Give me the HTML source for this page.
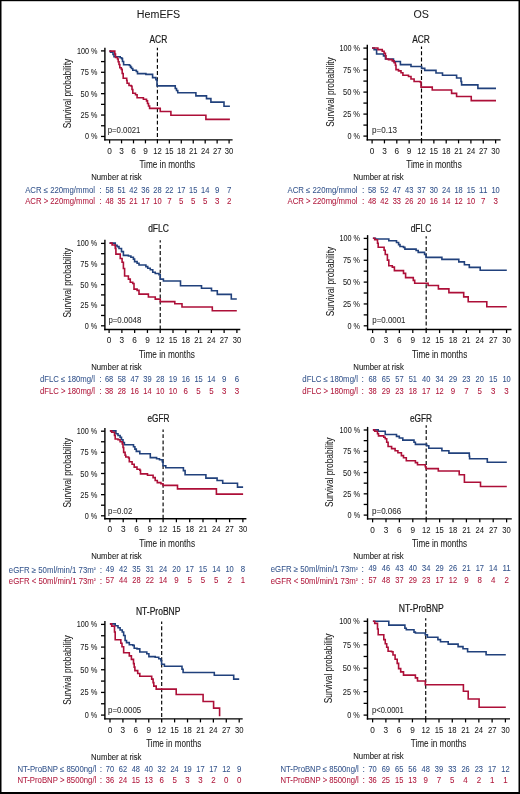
<!DOCTYPE html>
<html><head><meta charset="utf-8"><style>
html,body{margin:0;padding:0;background:#fff;}
svg{display:block;will-change:transform;font-family:"Liberation Sans", sans-serif;}
</style></head><body>
<svg width="520" height="794" viewBox="0 0 520 794">
<rect x="0" y="0" width="520" height="794" fill="#fff"/>
<rect x="0" y="0" width="520" height="1.2" fill="#000"/><rect x="0" y="0" width="1.5" height="794" fill="#000"/><rect x="518.5" y="0" width="1.5" height="794" fill="#000"/><rect x="0" y="792" width="520" height="2" fill="#000"/>
<text x="158.5" y="17.9" font-size="11.7" text-anchor="middle" fill="#1a1a1a" stroke="#1a1a1a" stroke-width="0.06" textLength="43.3" lengthAdjust="spacingAndGlyphs">HemEFS</text>
<text x="421.1" y="17.9" font-size="11.7" text-anchor="middle" fill="#1a1a1a" stroke="#1a1a1a" stroke-width="0.06" textLength="15.4" lengthAdjust="spacingAndGlyphs">OS</text>
<line x1="104.90" y1="47.80" x2="104.90" y2="140.60" stroke="#000" stroke-width="1.4"/>
<line x1="104.20" y1="139.90" x2="232.60" y2="139.90" stroke="#000" stroke-width="1.4"/>
<line x1="101.00" y1="136.45" x2="104.90" y2="136.45" stroke="#000" stroke-width="1.3"/>
<line x1="101.00" y1="125.76" x2="104.90" y2="125.76" stroke="#000" stroke-width="1.3"/>
<line x1="101.00" y1="115.06" x2="104.90" y2="115.06" stroke="#000" stroke-width="1.3"/>
<line x1="101.00" y1="104.37" x2="104.90" y2="104.37" stroke="#000" stroke-width="1.3"/>
<line x1="101.00" y1="93.67" x2="104.90" y2="93.67" stroke="#000" stroke-width="1.3"/>
<line x1="101.00" y1="82.98" x2="104.90" y2="82.98" stroke="#000" stroke-width="1.3"/>
<line x1="101.00" y1="72.29" x2="104.90" y2="72.29" stroke="#000" stroke-width="1.3"/>
<line x1="101.00" y1="61.59" x2="104.90" y2="61.59" stroke="#000" stroke-width="1.3"/>
<line x1="101.00" y1="50.90" x2="104.90" y2="50.90" stroke="#000" stroke-width="1.3"/>
<line x1="109.60" y1="139.90" x2="109.60" y2="143.40" stroke="#000" stroke-width="1.25"/>
<line x1="121.55" y1="139.90" x2="121.55" y2="143.40" stroke="#000" stroke-width="1.25"/>
<line x1="133.50" y1="139.90" x2="133.50" y2="143.40" stroke="#000" stroke-width="1.25"/>
<line x1="145.45" y1="139.90" x2="145.45" y2="143.40" stroke="#000" stroke-width="1.25"/>
<line x1="157.40" y1="139.90" x2="157.40" y2="143.40" stroke="#000" stroke-width="1.25"/>
<line x1="169.34" y1="139.90" x2="169.34" y2="143.40" stroke="#000" stroke-width="1.25"/>
<line x1="181.29" y1="139.90" x2="181.29" y2="143.40" stroke="#000" stroke-width="1.25"/>
<line x1="193.24" y1="139.90" x2="193.24" y2="143.40" stroke="#000" stroke-width="1.25"/>
<line x1="205.19" y1="139.90" x2="205.19" y2="143.40" stroke="#000" stroke-width="1.25"/>
<line x1="217.14" y1="139.90" x2="217.14" y2="143.40" stroke="#000" stroke-width="1.25"/>
<line x1="229.09" y1="139.90" x2="229.09" y2="143.40" stroke="#000" stroke-width="1.25"/>
<text x="97.50" y="139.45" font-size="9.0" text-anchor="end" fill="#1a1a1a" stroke="#1a1a1a" stroke-width="0.06" textLength="12.50" lengthAdjust="spacingAndGlyphs">0 %</text>
<text x="97.50" y="118.06" font-size="9.0" text-anchor="end" fill="#1a1a1a" stroke="#1a1a1a" stroke-width="0.06" textLength="17.00" lengthAdjust="spacingAndGlyphs">25 %</text>
<text x="97.50" y="96.67" font-size="9.0" text-anchor="end" fill="#1a1a1a" stroke="#1a1a1a" stroke-width="0.06" textLength="17.00" lengthAdjust="spacingAndGlyphs">50 %</text>
<text x="97.50" y="75.29" font-size="9.0" text-anchor="end" fill="#1a1a1a" stroke="#1a1a1a" stroke-width="0.06" textLength="17.00" lengthAdjust="spacingAndGlyphs">75 %</text>
<text x="97.50" y="53.90" font-size="9.0" text-anchor="end" fill="#1a1a1a" stroke="#1a1a1a" stroke-width="0.06" textLength="20.50" lengthAdjust="spacingAndGlyphs">100 %</text>
<text x="109.60" y="153.70" font-size="9.6" text-anchor="middle" fill="#1a1a1a" stroke="#1a1a1a" stroke-width="0.06" textLength="4.60" lengthAdjust="spacingAndGlyphs">0</text>
<text x="121.55" y="153.70" font-size="9.6" text-anchor="middle" fill="#1a1a1a" stroke="#1a1a1a" stroke-width="0.06" textLength="4.60" lengthAdjust="spacingAndGlyphs">3</text>
<text x="133.50" y="153.70" font-size="9.6" text-anchor="middle" fill="#1a1a1a" stroke="#1a1a1a" stroke-width="0.06" textLength="4.60" lengthAdjust="spacingAndGlyphs">6</text>
<text x="145.45" y="153.70" font-size="9.6" text-anchor="middle" fill="#1a1a1a" stroke="#1a1a1a" stroke-width="0.06" textLength="4.60" lengthAdjust="spacingAndGlyphs">9</text>
<text x="157.40" y="153.70" font-size="9.6" text-anchor="middle" fill="#1a1a1a" stroke="#1a1a1a" stroke-width="0.06" textLength="8.50" lengthAdjust="spacingAndGlyphs">12</text>
<text x="169.34" y="153.70" font-size="9.6" text-anchor="middle" fill="#1a1a1a" stroke="#1a1a1a" stroke-width="0.06" textLength="8.50" lengthAdjust="spacingAndGlyphs">15</text>
<text x="181.29" y="153.70" font-size="9.6" text-anchor="middle" fill="#1a1a1a" stroke="#1a1a1a" stroke-width="0.06" textLength="8.50" lengthAdjust="spacingAndGlyphs">18</text>
<text x="193.24" y="153.70" font-size="9.6" text-anchor="middle" fill="#1a1a1a" stroke="#1a1a1a" stroke-width="0.06" textLength="8.50" lengthAdjust="spacingAndGlyphs">21</text>
<text x="205.19" y="153.70" font-size="9.6" text-anchor="middle" fill="#1a1a1a" stroke="#1a1a1a" stroke-width="0.06" textLength="8.50" lengthAdjust="spacingAndGlyphs">24</text>
<text x="217.14" y="153.70" font-size="9.6" text-anchor="middle" fill="#1a1a1a" stroke="#1a1a1a" stroke-width="0.06" textLength="8.50" lengthAdjust="spacingAndGlyphs">27</text>
<text x="229.09" y="153.70" font-size="9.6" text-anchor="middle" fill="#1a1a1a" stroke="#1a1a1a" stroke-width="0.06" textLength="8.50" lengthAdjust="spacingAndGlyphs">30</text>
<text x="0" y="0" font-size="10.0" text-anchor="middle" fill="#1a1a1a" stroke="#1a1a1a" stroke-width="0.06" transform="translate(70.80,93.60) rotate(-90)" textLength="69.5" lengthAdjust="spacingAndGlyphs">Survival probability</text>
<text x="167.30" y="168.30" font-size="10.8" text-anchor="middle" fill="#1a1a1a" stroke="#1a1a1a" stroke-width="0.06" textLength="55.80" lengthAdjust="spacingAndGlyphs">Time in months</text>
<text x="158.40" y="42.50" font-size="10.0" text-anchor="middle" fill="#1a1a1a" stroke="#1a1a1a" stroke-width="0.2" textLength="17.80" lengthAdjust="spacingAndGlyphs">ACR</text>
<text x="107.70" y="133.10" font-size="8.4" text-anchor="start" fill="#2a2a2a" stroke="#2a2a2a" stroke-width="0.05" textLength="32.70" lengthAdjust="spacingAndGlyphs">p=0.0021</text>
<line x1="157.40" y1="47.80" x2="157.40" y2="139.90" stroke="#000" stroke-width="1.15" stroke-dasharray="3.9 2.3" stroke-dashoffset="1.5"/>
<path d="M109.40 51.10 L110.50 51.10 L110.50 52.30 L113.00 52.30 L113.00 54.50 L114.00 54.50 L114.00 56.70 L120.20 56.70 L120.20 57.80 L121.70 57.80 L121.70 58.60 L122.50 58.60 L122.50 61.50 L123.60 61.50 L123.60 64.80 L129.40 64.80 L129.40 65.50 L130.50 65.50 L130.50 67.10 L131.50 67.10 L131.50 68.50 L132.80 68.50 L132.80 70.20 L136.30 70.20 L136.30 71.50 L137.50 71.50 L137.50 73.60 L145.90 73.60 L145.90 74.40 L152.60 74.40 L152.60 77.60 L155.90 77.60 L155.90 79.60 L157.00 79.60 L157.00 85.90 L175.25 85.90 L175.25 88.50 L176.50 88.50 L176.50 90.50 L177.75 90.50 L177.75 92.75 L195.90 92.75 L195.90 95.90 L206.50 95.90 L206.50 98.60 L210.90 98.60 L210.90 102.10 L224.00 102.10 L224.00 106.25 L229.90 106.25 L229.90 106.25" fill="none" stroke="#21417c" stroke-width="1.6" stroke-linejoin="miter"/>
<path d="M109.40 51.10 L114.80 51.10 L114.80 54.00 L115.50 54.00 L115.50 57.50 L117.50 57.50 L117.50 59.00 L118.20 59.00 L118.20 61.70 L119.00 61.70 L119.00 64.50 L119.80 64.50 L119.80 67.80 L121.30 67.80 L121.30 69.40 L122.20 69.40 L122.20 73.50 L123.20 73.50 L123.20 78.20 L126.70 78.20 L126.70 80.50 L127.10 80.50 L127.10 83.20 L129.00 83.20 L129.00 85.50 L131.30 85.50 L131.30 86.30 L132.00 86.30 L132.00 89.50 L132.80 89.50 L132.80 93.20 L135.50 93.20 L135.50 94.80 L137.10 94.80 L137.10 97.80 L143.40 97.80 L143.40 99.30 L146.50 99.30 L146.50 100.90 L147.50 100.90 L147.50 103.50 L148.50 103.50 L148.50 106.00 L149.60 106.00 L149.60 108.40 L160.25 108.40 L160.25 111.50 L170.90 111.50 L170.90 115.25 L205.90 115.25 L205.90 119.40 L229.90 119.40 L229.90 119.40" fill="none" stroke="#ad0f38" stroke-width="1.6" stroke-linejoin="miter"/>
<text x="91.20" y="180.00" font-size="8.4" text-anchor="start" fill="#1a1a1a" stroke="#1a1a1a" stroke-width="0.08" textLength="50.50" lengthAdjust="spacingAndGlyphs">Number at risk</text>
<text x="25.20" y="192.50" font-size="8.5" text-anchor="start" fill="#34548c" stroke="#34548c" stroke-width="0.05" textLength="69.80" lengthAdjust="spacingAndGlyphs">ACR ≤ 220mg/mmol</text>
<text x="100.40" y="192.50" font-size="8.5" text-anchor="middle" fill="#34548c" stroke="#34548c" stroke-width="0.06">:</text>
<text x="109.60" y="192.50" font-size="9.0" text-anchor="middle" fill="#34548c" stroke="#34548c" stroke-width="0.08" textLength="8.30" lengthAdjust="spacingAndGlyphs">58</text>
<text x="121.55" y="192.50" font-size="9.0" text-anchor="middle" fill="#34548c" stroke="#34548c" stroke-width="0.08" textLength="8.30" lengthAdjust="spacingAndGlyphs">51</text>
<text x="133.50" y="192.50" font-size="9.0" text-anchor="middle" fill="#34548c" stroke="#34548c" stroke-width="0.08" textLength="8.30" lengthAdjust="spacingAndGlyphs">42</text>
<text x="145.45" y="192.50" font-size="9.0" text-anchor="middle" fill="#34548c" stroke="#34548c" stroke-width="0.08" textLength="8.30" lengthAdjust="spacingAndGlyphs">36</text>
<text x="157.40" y="192.50" font-size="9.0" text-anchor="middle" fill="#34548c" stroke="#34548c" stroke-width="0.08" textLength="8.30" lengthAdjust="spacingAndGlyphs">28</text>
<text x="169.34" y="192.50" font-size="9.0" text-anchor="middle" fill="#34548c" stroke="#34548c" stroke-width="0.08" textLength="8.30" lengthAdjust="spacingAndGlyphs">22</text>
<text x="181.29" y="192.50" font-size="9.0" text-anchor="middle" fill="#34548c" stroke="#34548c" stroke-width="0.08" textLength="8.30" lengthAdjust="spacingAndGlyphs">17</text>
<text x="193.24" y="192.50" font-size="9.0" text-anchor="middle" fill="#34548c" stroke="#34548c" stroke-width="0.08" textLength="8.30" lengthAdjust="spacingAndGlyphs">15</text>
<text x="205.19" y="192.50" font-size="9.0" text-anchor="middle" fill="#34548c" stroke="#34548c" stroke-width="0.08" textLength="8.30" lengthAdjust="spacingAndGlyphs">14</text>
<text x="217.14" y="192.50" font-size="9.0" text-anchor="middle" fill="#34548c" stroke="#34548c" stroke-width="0.08" textLength="4.40" lengthAdjust="spacingAndGlyphs">9</text>
<text x="229.09" y="192.50" font-size="9.0" text-anchor="middle" fill="#34548c" stroke="#34548c" stroke-width="0.08" textLength="4.40" lengthAdjust="spacingAndGlyphs">7</text>
<text x="25.20" y="204.00" font-size="8.5" text-anchor="start" fill="#b0183c" stroke="#b0183c" stroke-width="0.05" textLength="69.80" lengthAdjust="spacingAndGlyphs">ACR &gt; 220mg/mmol</text>
<text x="100.40" y="204.00" font-size="8.5" text-anchor="middle" fill="#b0183c" stroke="#b0183c" stroke-width="0.06">:</text>
<text x="109.60" y="204.00" font-size="9.0" text-anchor="middle" fill="#b0183c" stroke="#b0183c" stroke-width="0.08" textLength="8.30" lengthAdjust="spacingAndGlyphs">48</text>
<text x="121.55" y="204.00" font-size="9.0" text-anchor="middle" fill="#b0183c" stroke="#b0183c" stroke-width="0.08" textLength="8.30" lengthAdjust="spacingAndGlyphs">35</text>
<text x="133.50" y="204.00" font-size="9.0" text-anchor="middle" fill="#b0183c" stroke="#b0183c" stroke-width="0.08" textLength="8.30" lengthAdjust="spacingAndGlyphs">21</text>
<text x="145.45" y="204.00" font-size="9.0" text-anchor="middle" fill="#b0183c" stroke="#b0183c" stroke-width="0.08" textLength="8.30" lengthAdjust="spacingAndGlyphs">17</text>
<text x="157.40" y="204.00" font-size="9.0" text-anchor="middle" fill="#b0183c" stroke="#b0183c" stroke-width="0.08" textLength="8.30" lengthAdjust="spacingAndGlyphs">10</text>
<text x="169.34" y="204.00" font-size="9.0" text-anchor="middle" fill="#b0183c" stroke="#b0183c" stroke-width="0.08" textLength="4.40" lengthAdjust="spacingAndGlyphs">7</text>
<text x="181.29" y="204.00" font-size="9.0" text-anchor="middle" fill="#b0183c" stroke="#b0183c" stroke-width="0.08" textLength="4.40" lengthAdjust="spacingAndGlyphs">5</text>
<text x="193.24" y="204.00" font-size="9.0" text-anchor="middle" fill="#b0183c" stroke="#b0183c" stroke-width="0.08" textLength="4.40" lengthAdjust="spacingAndGlyphs">5</text>
<text x="205.19" y="204.00" font-size="9.0" text-anchor="middle" fill="#b0183c" stroke="#b0183c" stroke-width="0.08" textLength="4.40" lengthAdjust="spacingAndGlyphs">5</text>
<text x="217.14" y="204.00" font-size="9.0" text-anchor="middle" fill="#b0183c" stroke="#b0183c" stroke-width="0.08" textLength="4.40" lengthAdjust="spacingAndGlyphs">3</text>
<text x="229.09" y="204.00" font-size="9.0" text-anchor="middle" fill="#b0183c" stroke="#b0183c" stroke-width="0.08" textLength="4.40" lengthAdjust="spacingAndGlyphs">2</text>
<line x1="367.30" y1="44.80" x2="367.30" y2="140.60" stroke="#000" stroke-width="1.4"/>
<line x1="366.60" y1="139.90" x2="500.60" y2="139.90" stroke="#000" stroke-width="1.4"/>
<line x1="363.40" y1="136.10" x2="367.30" y2="136.10" stroke="#000" stroke-width="1.3"/>
<line x1="363.40" y1="125.10" x2="367.30" y2="125.10" stroke="#000" stroke-width="1.3"/>
<line x1="363.40" y1="114.10" x2="367.30" y2="114.10" stroke="#000" stroke-width="1.3"/>
<line x1="363.40" y1="103.10" x2="367.30" y2="103.10" stroke="#000" stroke-width="1.3"/>
<line x1="363.40" y1="92.10" x2="367.30" y2="92.10" stroke="#000" stroke-width="1.3"/>
<line x1="363.40" y1="81.10" x2="367.30" y2="81.10" stroke="#000" stroke-width="1.3"/>
<line x1="363.40" y1="70.10" x2="367.30" y2="70.10" stroke="#000" stroke-width="1.3"/>
<line x1="363.40" y1="59.10" x2="367.30" y2="59.10" stroke="#000" stroke-width="1.3"/>
<line x1="363.40" y1="48.10" x2="367.30" y2="48.10" stroke="#000" stroke-width="1.3"/>
<line x1="372.10" y1="139.90" x2="372.10" y2="143.40" stroke="#000" stroke-width="1.25"/>
<line x1="384.45" y1="139.90" x2="384.45" y2="143.40" stroke="#000" stroke-width="1.25"/>
<line x1="396.80" y1="139.90" x2="396.80" y2="143.40" stroke="#000" stroke-width="1.25"/>
<line x1="409.15" y1="139.90" x2="409.15" y2="143.40" stroke="#000" stroke-width="1.25"/>
<line x1="421.50" y1="139.90" x2="421.50" y2="143.40" stroke="#000" stroke-width="1.25"/>
<line x1="433.86" y1="139.90" x2="433.86" y2="143.40" stroke="#000" stroke-width="1.25"/>
<line x1="446.21" y1="139.90" x2="446.21" y2="143.40" stroke="#000" stroke-width="1.25"/>
<line x1="458.56" y1="139.90" x2="458.56" y2="143.40" stroke="#000" stroke-width="1.25"/>
<line x1="470.91" y1="139.90" x2="470.91" y2="143.40" stroke="#000" stroke-width="1.25"/>
<line x1="483.26" y1="139.90" x2="483.26" y2="143.40" stroke="#000" stroke-width="1.25"/>
<line x1="495.61" y1="139.90" x2="495.61" y2="143.40" stroke="#000" stroke-width="1.25"/>
<text x="360.00" y="139.10" font-size="9.0" text-anchor="end" fill="#1a1a1a" stroke="#1a1a1a" stroke-width="0.06" textLength="12.50" lengthAdjust="spacingAndGlyphs">0 %</text>
<text x="360.00" y="117.10" font-size="9.0" text-anchor="end" fill="#1a1a1a" stroke="#1a1a1a" stroke-width="0.06" textLength="17.00" lengthAdjust="spacingAndGlyphs">25 %</text>
<text x="360.00" y="95.10" font-size="9.0" text-anchor="end" fill="#1a1a1a" stroke="#1a1a1a" stroke-width="0.06" textLength="17.00" lengthAdjust="spacingAndGlyphs">50 %</text>
<text x="360.00" y="73.10" font-size="9.0" text-anchor="end" fill="#1a1a1a" stroke="#1a1a1a" stroke-width="0.06" textLength="17.00" lengthAdjust="spacingAndGlyphs">75 %</text>
<text x="360.00" y="51.10" font-size="9.0" text-anchor="end" fill="#1a1a1a" stroke="#1a1a1a" stroke-width="0.06" textLength="20.50" lengthAdjust="spacingAndGlyphs">100 %</text>
<text x="372.10" y="153.70" font-size="9.6" text-anchor="middle" fill="#1a1a1a" stroke="#1a1a1a" stroke-width="0.06" textLength="4.60" lengthAdjust="spacingAndGlyphs">0</text>
<text x="384.45" y="153.70" font-size="9.6" text-anchor="middle" fill="#1a1a1a" stroke="#1a1a1a" stroke-width="0.06" textLength="4.60" lengthAdjust="spacingAndGlyphs">3</text>
<text x="396.80" y="153.70" font-size="9.6" text-anchor="middle" fill="#1a1a1a" stroke="#1a1a1a" stroke-width="0.06" textLength="4.60" lengthAdjust="spacingAndGlyphs">6</text>
<text x="409.15" y="153.70" font-size="9.6" text-anchor="middle" fill="#1a1a1a" stroke="#1a1a1a" stroke-width="0.06" textLength="4.60" lengthAdjust="spacingAndGlyphs">9</text>
<text x="421.50" y="153.70" font-size="9.6" text-anchor="middle" fill="#1a1a1a" stroke="#1a1a1a" stroke-width="0.06" textLength="8.50" lengthAdjust="spacingAndGlyphs">12</text>
<text x="433.86" y="153.70" font-size="9.6" text-anchor="middle" fill="#1a1a1a" stroke="#1a1a1a" stroke-width="0.06" textLength="8.50" lengthAdjust="spacingAndGlyphs">15</text>
<text x="446.21" y="153.70" font-size="9.6" text-anchor="middle" fill="#1a1a1a" stroke="#1a1a1a" stroke-width="0.06" textLength="8.50" lengthAdjust="spacingAndGlyphs">18</text>
<text x="458.56" y="153.70" font-size="9.6" text-anchor="middle" fill="#1a1a1a" stroke="#1a1a1a" stroke-width="0.06" textLength="8.50" lengthAdjust="spacingAndGlyphs">21</text>
<text x="470.91" y="153.70" font-size="9.6" text-anchor="middle" fill="#1a1a1a" stroke="#1a1a1a" stroke-width="0.06" textLength="8.50" lengthAdjust="spacingAndGlyphs">24</text>
<text x="483.26" y="153.70" font-size="9.6" text-anchor="middle" fill="#1a1a1a" stroke="#1a1a1a" stroke-width="0.06" textLength="8.50" lengthAdjust="spacingAndGlyphs">27</text>
<text x="495.61" y="153.70" font-size="9.6" text-anchor="middle" fill="#1a1a1a" stroke="#1a1a1a" stroke-width="0.06" textLength="8.50" lengthAdjust="spacingAndGlyphs">30</text>
<text x="0" y="0" font-size="10.0" text-anchor="middle" fill="#1a1a1a" stroke="#1a1a1a" stroke-width="0.06" transform="translate(333.50,92.00) rotate(-90)" textLength="69.5" lengthAdjust="spacingAndGlyphs">Survival probability</text>
<text x="434.00" y="168.30" font-size="10.8" text-anchor="middle" fill="#1a1a1a" stroke="#1a1a1a" stroke-width="0.06" textLength="55.50" lengthAdjust="spacingAndGlyphs">Time in months</text>
<text x="421.00" y="42.70" font-size="10.0" text-anchor="middle" fill="#1a1a1a" stroke="#1a1a1a" stroke-width="0.2" textLength="17.70" lengthAdjust="spacingAndGlyphs">ACR</text>
<text x="372.00" y="133.10" font-size="8.4" text-anchor="start" fill="#2a2a2a" stroke="#2a2a2a" stroke-width="0.05" textLength="24.90" lengthAdjust="spacingAndGlyphs">p=0.13</text>
<line x1="421.50" y1="46.60" x2="421.50" y2="139.90" stroke="#000" stroke-width="1.15" stroke-dasharray="3.9 2.3" stroke-dashoffset="1.5"/>
<path d="M372.00 48.00 L374.10 48.00 L374.10 49.60 L376.60 49.60 L376.60 54.00 L383.50 54.00 L383.50 55.90 L385.40 55.90 L385.40 59.00 L393.50 59.00 L393.50 61.50 L400.40 61.50 L400.40 64.60 L411.00 64.60 L411.00 66.50 L421.60 66.50 L421.60 68.40 L424.75 68.40 L424.75 70.40 L436.00 70.40 L436.00 73.00 L442.50 73.00 L442.50 75.25 L456.60 75.25 L456.60 78.00 L461.00 78.00 L461.00 81.50 L461.60 81.50 L461.60 84.90 L477.90 84.90 L477.90 88.40 L496.00 88.40 L496.00 88.40" fill="none" stroke="#21417c" stroke-width="1.6" stroke-linejoin="miter"/>
<path d="M372.00 48.00 L377.90 48.00 L377.90 49.60 L382.25 49.60 L382.25 51.25 L384.10 51.25 L384.10 53.40 L385.40 53.40 L385.40 55.90 L386.00 55.90 L386.00 59.00 L388.50 59.00 L388.50 59.60 L392.25 59.60 L392.25 60.90 L394.10 60.90 L394.10 62.75 L395.40 62.75 L395.40 65.25 L396.00 65.25 L396.00 69.60 L398.50 69.60 L398.50 70.90 L401.00 70.90 L401.00 72.75 L402.90 72.75 L402.90 75.25 L408.50 75.25 L408.50 76.50 L411.00 76.50 L411.00 79.00 L414.10 79.00 L414.10 81.50 L420.40 81.50 L420.40 82.10 L421.00 82.10 L421.00 87.10 L432.25 87.10 L432.25 90.00 L451.60 90.00 L451.60 93.40 L456.60 93.40 L456.60 96.50 L471.25 96.50 L471.25 100.60 L496.00 100.60 L496.00 100.60" fill="none" stroke="#ad0f38" stroke-width="1.6" stroke-linejoin="miter"/>
<text x="353.25" y="180.00" font-size="8.4" text-anchor="start" fill="#1a1a1a" stroke="#1a1a1a" stroke-width="0.08" textLength="50.50" lengthAdjust="spacingAndGlyphs">Number at risk</text>
<text x="287.50" y="192.50" font-size="8.5" text-anchor="start" fill="#34548c" stroke="#34548c" stroke-width="0.05" textLength="70.00" lengthAdjust="spacingAndGlyphs">ACR ≤ 220mg/mmol</text>
<text x="363.25" y="192.50" font-size="8.5" text-anchor="middle" fill="#34548c" stroke="#34548c" stroke-width="0.06">:</text>
<text x="372.10" y="192.50" font-size="9.0" text-anchor="middle" fill="#34548c" stroke="#34548c" stroke-width="0.08" textLength="8.30" lengthAdjust="spacingAndGlyphs">58</text>
<text x="384.45" y="192.50" font-size="9.0" text-anchor="middle" fill="#34548c" stroke="#34548c" stroke-width="0.08" textLength="8.30" lengthAdjust="spacingAndGlyphs">52</text>
<text x="396.80" y="192.50" font-size="9.0" text-anchor="middle" fill="#34548c" stroke="#34548c" stroke-width="0.08" textLength="8.30" lengthAdjust="spacingAndGlyphs">47</text>
<text x="409.15" y="192.50" font-size="9.0" text-anchor="middle" fill="#34548c" stroke="#34548c" stroke-width="0.08" textLength="8.30" lengthAdjust="spacingAndGlyphs">43</text>
<text x="421.50" y="192.50" font-size="9.0" text-anchor="middle" fill="#34548c" stroke="#34548c" stroke-width="0.08" textLength="8.30" lengthAdjust="spacingAndGlyphs">37</text>
<text x="433.86" y="192.50" font-size="9.0" text-anchor="middle" fill="#34548c" stroke="#34548c" stroke-width="0.08" textLength="8.30" lengthAdjust="spacingAndGlyphs">30</text>
<text x="446.21" y="192.50" font-size="9.0" text-anchor="middle" fill="#34548c" stroke="#34548c" stroke-width="0.08" textLength="8.30" lengthAdjust="spacingAndGlyphs">24</text>
<text x="458.56" y="192.50" font-size="9.0" text-anchor="middle" fill="#34548c" stroke="#34548c" stroke-width="0.08" textLength="8.30" lengthAdjust="spacingAndGlyphs">18</text>
<text x="470.91" y="192.50" font-size="9.0" text-anchor="middle" fill="#34548c" stroke="#34548c" stroke-width="0.08" textLength="8.30" lengthAdjust="spacingAndGlyphs">15</text>
<text x="483.26" y="192.50" font-size="9.0" text-anchor="middle" fill="#34548c" stroke="#34548c" stroke-width="0.08" textLength="8.30" lengthAdjust="spacingAndGlyphs">11</text>
<text x="495.61" y="192.50" font-size="9.0" text-anchor="middle" fill="#34548c" stroke="#34548c" stroke-width="0.08" textLength="8.30" lengthAdjust="spacingAndGlyphs">10</text>
<text x="287.50" y="204.00" font-size="8.5" text-anchor="start" fill="#b0183c" stroke="#b0183c" stroke-width="0.05" textLength="70.00" lengthAdjust="spacingAndGlyphs">ACR &gt; 220mg/mmol</text>
<text x="363.25" y="204.00" font-size="8.5" text-anchor="middle" fill="#b0183c" stroke="#b0183c" stroke-width="0.06">:</text>
<text x="372.10" y="204.00" font-size="9.0" text-anchor="middle" fill="#b0183c" stroke="#b0183c" stroke-width="0.08" textLength="8.30" lengthAdjust="spacingAndGlyphs">48</text>
<text x="384.45" y="204.00" font-size="9.0" text-anchor="middle" fill="#b0183c" stroke="#b0183c" stroke-width="0.08" textLength="8.30" lengthAdjust="spacingAndGlyphs">42</text>
<text x="396.80" y="204.00" font-size="9.0" text-anchor="middle" fill="#b0183c" stroke="#b0183c" stroke-width="0.08" textLength="8.30" lengthAdjust="spacingAndGlyphs">33</text>
<text x="409.15" y="204.00" font-size="9.0" text-anchor="middle" fill="#b0183c" stroke="#b0183c" stroke-width="0.08" textLength="8.30" lengthAdjust="spacingAndGlyphs">26</text>
<text x="421.50" y="204.00" font-size="9.0" text-anchor="middle" fill="#b0183c" stroke="#b0183c" stroke-width="0.08" textLength="8.30" lengthAdjust="spacingAndGlyphs">20</text>
<text x="433.86" y="204.00" font-size="9.0" text-anchor="middle" fill="#b0183c" stroke="#b0183c" stroke-width="0.08" textLength="8.30" lengthAdjust="spacingAndGlyphs">16</text>
<text x="446.21" y="204.00" font-size="9.0" text-anchor="middle" fill="#b0183c" stroke="#b0183c" stroke-width="0.08" textLength="8.30" lengthAdjust="spacingAndGlyphs">14</text>
<text x="458.56" y="204.00" font-size="9.0" text-anchor="middle" fill="#b0183c" stroke="#b0183c" stroke-width="0.08" textLength="8.30" lengthAdjust="spacingAndGlyphs">12</text>
<text x="470.91" y="204.00" font-size="9.0" text-anchor="middle" fill="#b0183c" stroke="#b0183c" stroke-width="0.08" textLength="8.30" lengthAdjust="spacingAndGlyphs">10</text>
<text x="483.26" y="204.00" font-size="9.0" text-anchor="middle" fill="#b0183c" stroke="#b0183c" stroke-width="0.08" textLength="4.40" lengthAdjust="spacingAndGlyphs">7</text>
<text x="495.61" y="204.00" font-size="9.0" text-anchor="middle" fill="#b0183c" stroke="#b0183c" stroke-width="0.08" textLength="4.40" lengthAdjust="spacingAndGlyphs">3</text>
<line x1="104.90" y1="239.65" x2="104.90" y2="330.15" stroke="#000" stroke-width="1.4"/>
<line x1="104.20" y1="329.45" x2="240.30" y2="329.45" stroke="#000" stroke-width="1.4"/>
<line x1="101.00" y1="325.80" x2="104.90" y2="325.80" stroke="#000" stroke-width="1.3"/>
<line x1="101.00" y1="315.50" x2="104.90" y2="315.50" stroke="#000" stroke-width="1.3"/>
<line x1="101.00" y1="305.20" x2="104.90" y2="305.20" stroke="#000" stroke-width="1.3"/>
<line x1="101.00" y1="294.90" x2="104.90" y2="294.90" stroke="#000" stroke-width="1.3"/>
<line x1="101.00" y1="284.60" x2="104.90" y2="284.60" stroke="#000" stroke-width="1.3"/>
<line x1="101.00" y1="274.30" x2="104.90" y2="274.30" stroke="#000" stroke-width="1.3"/>
<line x1="101.00" y1="264.00" x2="104.90" y2="264.00" stroke="#000" stroke-width="1.3"/>
<line x1="101.00" y1="253.70" x2="104.90" y2="253.70" stroke="#000" stroke-width="1.3"/>
<line x1="101.00" y1="243.40" x2="104.90" y2="243.40" stroke="#000" stroke-width="1.3"/>
<line x1="109.10" y1="329.45" x2="109.10" y2="332.95" stroke="#000" stroke-width="1.25"/>
<line x1="121.88" y1="329.45" x2="121.88" y2="332.95" stroke="#000" stroke-width="1.25"/>
<line x1="134.66" y1="329.45" x2="134.66" y2="332.95" stroke="#000" stroke-width="1.25"/>
<line x1="147.44" y1="329.45" x2="147.44" y2="332.95" stroke="#000" stroke-width="1.25"/>
<line x1="160.22" y1="329.45" x2="160.22" y2="332.95" stroke="#000" stroke-width="1.25"/>
<line x1="173.00" y1="329.45" x2="173.00" y2="332.95" stroke="#000" stroke-width="1.25"/>
<line x1="185.78" y1="329.45" x2="185.78" y2="332.95" stroke="#000" stroke-width="1.25"/>
<line x1="198.56" y1="329.45" x2="198.56" y2="332.95" stroke="#000" stroke-width="1.25"/>
<line x1="211.34" y1="329.45" x2="211.34" y2="332.95" stroke="#000" stroke-width="1.25"/>
<line x1="224.12" y1="329.45" x2="224.12" y2="332.95" stroke="#000" stroke-width="1.25"/>
<line x1="236.90" y1="329.45" x2="236.90" y2="332.95" stroke="#000" stroke-width="1.25"/>
<text x="97.30" y="328.80" font-size="9.0" text-anchor="end" fill="#1a1a1a" stroke="#1a1a1a" stroke-width="0.06" textLength="12.50" lengthAdjust="spacingAndGlyphs">0 %</text>
<text x="97.30" y="308.20" font-size="9.0" text-anchor="end" fill="#1a1a1a" stroke="#1a1a1a" stroke-width="0.06" textLength="17.00" lengthAdjust="spacingAndGlyphs">25 %</text>
<text x="97.30" y="287.60" font-size="9.0" text-anchor="end" fill="#1a1a1a" stroke="#1a1a1a" stroke-width="0.06" textLength="17.00" lengthAdjust="spacingAndGlyphs">50 %</text>
<text x="97.30" y="267.00" font-size="9.0" text-anchor="end" fill="#1a1a1a" stroke="#1a1a1a" stroke-width="0.06" textLength="17.00" lengthAdjust="spacingAndGlyphs">75 %</text>
<text x="97.30" y="246.40" font-size="9.0" text-anchor="end" fill="#1a1a1a" stroke="#1a1a1a" stroke-width="0.06" textLength="20.50" lengthAdjust="spacingAndGlyphs">100 %</text>
<text x="109.10" y="343.00" font-size="9.6" text-anchor="middle" fill="#1a1a1a" stroke="#1a1a1a" stroke-width="0.06" textLength="4.60" lengthAdjust="spacingAndGlyphs">0</text>
<text x="121.88" y="343.00" font-size="9.6" text-anchor="middle" fill="#1a1a1a" stroke="#1a1a1a" stroke-width="0.06" textLength="4.60" lengthAdjust="spacingAndGlyphs">3</text>
<text x="134.66" y="343.00" font-size="9.6" text-anchor="middle" fill="#1a1a1a" stroke="#1a1a1a" stroke-width="0.06" textLength="4.60" lengthAdjust="spacingAndGlyphs">6</text>
<text x="147.44" y="343.00" font-size="9.6" text-anchor="middle" fill="#1a1a1a" stroke="#1a1a1a" stroke-width="0.06" textLength="4.60" lengthAdjust="spacingAndGlyphs">9</text>
<text x="160.22" y="343.00" font-size="9.6" text-anchor="middle" fill="#1a1a1a" stroke="#1a1a1a" stroke-width="0.06" textLength="8.50" lengthAdjust="spacingAndGlyphs">12</text>
<text x="173.00" y="343.00" font-size="9.6" text-anchor="middle" fill="#1a1a1a" stroke="#1a1a1a" stroke-width="0.06" textLength="8.50" lengthAdjust="spacingAndGlyphs">15</text>
<text x="185.78" y="343.00" font-size="9.6" text-anchor="middle" fill="#1a1a1a" stroke="#1a1a1a" stroke-width="0.06" textLength="8.50" lengthAdjust="spacingAndGlyphs">18</text>
<text x="198.56" y="343.00" font-size="9.6" text-anchor="middle" fill="#1a1a1a" stroke="#1a1a1a" stroke-width="0.06" textLength="8.50" lengthAdjust="spacingAndGlyphs">21</text>
<text x="211.34" y="343.00" font-size="9.6" text-anchor="middle" fill="#1a1a1a" stroke="#1a1a1a" stroke-width="0.06" textLength="8.50" lengthAdjust="spacingAndGlyphs">24</text>
<text x="224.12" y="343.00" font-size="9.6" text-anchor="middle" fill="#1a1a1a" stroke="#1a1a1a" stroke-width="0.06" textLength="8.50" lengthAdjust="spacingAndGlyphs">27</text>
<text x="236.90" y="343.00" font-size="9.6" text-anchor="middle" fill="#1a1a1a" stroke="#1a1a1a" stroke-width="0.06" textLength="8.50" lengthAdjust="spacingAndGlyphs">30</text>
<text x="0" y="0" font-size="10.0" text-anchor="middle" fill="#1a1a1a" stroke="#1a1a1a" stroke-width="0.06" transform="translate(70.60,282.80) rotate(-90)" textLength="69.5" lengthAdjust="spacingAndGlyphs">Survival probability</text>
<text x="166.90" y="357.70" font-size="10.8" text-anchor="middle" fill="#1a1a1a" stroke="#1a1a1a" stroke-width="0.06" textLength="55.80" lengthAdjust="spacingAndGlyphs">Time in months</text>
<text x="158.50" y="231.90" font-size="10.0" text-anchor="middle" fill="#1a1a1a" stroke="#1a1a1a" stroke-width="0.2" textLength="20.70" lengthAdjust="spacingAndGlyphs">dFLC</text>
<text x="108.40" y="322.60" font-size="8.4" text-anchor="start" fill="#2a2a2a" stroke="#2a2a2a" stroke-width="0.05" textLength="32.90" lengthAdjust="spacingAndGlyphs">p=0.0048</text>
<line x1="160.22" y1="240.20" x2="160.22" y2="329.45" stroke="#000" stroke-width="1.15" stroke-dasharray="3.9 2.3" stroke-dashoffset="1.5"/>
<path d="M109.60 243.10 L115.25 243.10 L115.25 245.40 L117.10 245.40 L117.10 246.60 L119.00 246.60 L119.00 248.50 L121.50 248.50 L121.50 251.60 L123.40 251.60 L123.40 255.40 L128.40 255.40 L128.40 256.00 L130.90 256.00 L130.90 257.25 L133.40 257.25 L133.40 259.10 L134.60 259.10 L134.60 261.60 L137.10 261.60 L137.10 263.25 L139.00 263.25 L139.00 265.00 L145.90 265.00 L145.90 266.60 L147.75 266.60 L147.75 268.25 L150.25 268.25 L150.25 269.75 L152.75 269.75 L152.75 272.25 L155.25 272.25 L155.25 273.50 L159.00 273.50 L159.00 274.75 L160.25 274.75 L160.25 279.10 L163.40 279.10 L163.40 281.00 L180.50 281.00 L180.50 285.80 L201.50 285.80 L201.50 288.20 L211.50 288.20 L211.50 290.80 L217.30 290.80 L217.30 294.40 L231.30 294.40 L231.30 299.00 L236.80 299.00 L236.80 299.00" fill="none" stroke="#21417c" stroke-width="1.6" stroke-linejoin="miter"/>
<path d="M109.60 243.10 L112.10 243.10 L112.10 245.00 L115.25 245.00 L115.25 248.50 L115.90 248.50 L115.90 254.10 L120.25 254.10 L120.25 258.50 L122.10 258.50 L122.10 262.25 L123.40 262.25 L123.40 268.50 L124.60 268.50 L124.60 276.00 L128.40 276.00 L128.40 279.10 L130.25 279.10 L130.25 282.25 L132.75 282.25 L132.75 283.50 L134.00 283.50 L134.00 289.10 L137.10 289.10 L137.10 290.40 L139.00 290.40 L139.00 294.10 L148.40 294.10 L148.40 297.00 L155.25 297.00 L155.25 299.10 L160.25 299.10 L160.25 301.60 L174.80 301.60 L174.80 303.80 L182.00 303.80 L182.00 307.00 L212.30 307.00 L212.30 310.70 L236.80 310.70 L236.80 310.70" fill="none" stroke="#ad0f38" stroke-width="1.6" stroke-linejoin="miter"/>
<text x="91.20" y="369.60" font-size="8.4" text-anchor="start" fill="#1a1a1a" stroke="#1a1a1a" stroke-width="0.08" textLength="50.50" lengthAdjust="spacingAndGlyphs">Number at risk</text>
<text x="39.90" y="381.90" font-size="8.5" text-anchor="start" fill="#34548c" stroke="#34548c" stroke-width="0.05" textLength="55.10" lengthAdjust="spacingAndGlyphs">dFLC ≤ 180mg/l</text>
<text x="100.40" y="381.90" font-size="8.5" text-anchor="middle" fill="#34548c" stroke="#34548c" stroke-width="0.06">:</text>
<text x="109.10" y="381.90" font-size="9.0" text-anchor="middle" fill="#34548c" stroke="#34548c" stroke-width="0.08" textLength="8.30" lengthAdjust="spacingAndGlyphs">68</text>
<text x="121.88" y="381.90" font-size="9.0" text-anchor="middle" fill="#34548c" stroke="#34548c" stroke-width="0.08" textLength="8.30" lengthAdjust="spacingAndGlyphs">58</text>
<text x="134.66" y="381.90" font-size="9.0" text-anchor="middle" fill="#34548c" stroke="#34548c" stroke-width="0.08" textLength="8.30" lengthAdjust="spacingAndGlyphs">47</text>
<text x="147.44" y="381.90" font-size="9.0" text-anchor="middle" fill="#34548c" stroke="#34548c" stroke-width="0.08" textLength="8.30" lengthAdjust="spacingAndGlyphs">39</text>
<text x="160.22" y="381.90" font-size="9.0" text-anchor="middle" fill="#34548c" stroke="#34548c" stroke-width="0.08" textLength="8.30" lengthAdjust="spacingAndGlyphs">28</text>
<text x="173.00" y="381.90" font-size="9.0" text-anchor="middle" fill="#34548c" stroke="#34548c" stroke-width="0.08" textLength="8.30" lengthAdjust="spacingAndGlyphs">19</text>
<text x="185.78" y="381.90" font-size="9.0" text-anchor="middle" fill="#34548c" stroke="#34548c" stroke-width="0.08" textLength="8.30" lengthAdjust="spacingAndGlyphs">16</text>
<text x="198.56" y="381.90" font-size="9.0" text-anchor="middle" fill="#34548c" stroke="#34548c" stroke-width="0.08" textLength="8.30" lengthAdjust="spacingAndGlyphs">15</text>
<text x="211.34" y="381.90" font-size="9.0" text-anchor="middle" fill="#34548c" stroke="#34548c" stroke-width="0.08" textLength="8.30" lengthAdjust="spacingAndGlyphs">14</text>
<text x="224.12" y="381.90" font-size="9.0" text-anchor="middle" fill="#34548c" stroke="#34548c" stroke-width="0.08" textLength="4.40" lengthAdjust="spacingAndGlyphs">9</text>
<text x="236.90" y="381.90" font-size="9.0" text-anchor="middle" fill="#34548c" stroke="#34548c" stroke-width="0.08" textLength="4.40" lengthAdjust="spacingAndGlyphs">6</text>
<text x="39.90" y="393.50" font-size="8.5" text-anchor="start" fill="#b0183c" stroke="#b0183c" stroke-width="0.05" textLength="55.10" lengthAdjust="spacingAndGlyphs">dFLC &gt; 180mg/l</text>
<text x="100.40" y="393.50" font-size="8.5" text-anchor="middle" fill="#b0183c" stroke="#b0183c" stroke-width="0.06">:</text>
<text x="109.10" y="393.50" font-size="9.0" text-anchor="middle" fill="#b0183c" stroke="#b0183c" stroke-width="0.08" textLength="8.30" lengthAdjust="spacingAndGlyphs">38</text>
<text x="121.88" y="393.50" font-size="9.0" text-anchor="middle" fill="#b0183c" stroke="#b0183c" stroke-width="0.08" textLength="8.30" lengthAdjust="spacingAndGlyphs">28</text>
<text x="134.66" y="393.50" font-size="9.0" text-anchor="middle" fill="#b0183c" stroke="#b0183c" stroke-width="0.08" textLength="8.30" lengthAdjust="spacingAndGlyphs">16</text>
<text x="147.44" y="393.50" font-size="9.0" text-anchor="middle" fill="#b0183c" stroke="#b0183c" stroke-width="0.08" textLength="8.30" lengthAdjust="spacingAndGlyphs">14</text>
<text x="160.22" y="393.50" font-size="9.0" text-anchor="middle" fill="#b0183c" stroke="#b0183c" stroke-width="0.08" textLength="8.30" lengthAdjust="spacingAndGlyphs">10</text>
<text x="173.00" y="393.50" font-size="9.0" text-anchor="middle" fill="#b0183c" stroke="#b0183c" stroke-width="0.08" textLength="8.30" lengthAdjust="spacingAndGlyphs">10</text>
<text x="185.78" y="393.50" font-size="9.0" text-anchor="middle" fill="#b0183c" stroke="#b0183c" stroke-width="0.08" textLength="4.40" lengthAdjust="spacingAndGlyphs">6</text>
<text x="198.56" y="393.50" font-size="9.0" text-anchor="middle" fill="#b0183c" stroke="#b0183c" stroke-width="0.08" textLength="4.40" lengthAdjust="spacingAndGlyphs">5</text>
<text x="211.34" y="393.50" font-size="9.0" text-anchor="middle" fill="#b0183c" stroke="#b0183c" stroke-width="0.08" textLength="4.40" lengthAdjust="spacingAndGlyphs">5</text>
<text x="224.12" y="393.50" font-size="9.0" text-anchor="middle" fill="#b0183c" stroke="#b0183c" stroke-width="0.08" textLength="4.40" lengthAdjust="spacingAndGlyphs">3</text>
<text x="236.90" y="393.50" font-size="9.0" text-anchor="middle" fill="#b0183c" stroke="#b0183c" stroke-width="0.08" textLength="4.40" lengthAdjust="spacingAndGlyphs">3</text>
<line x1="367.60" y1="235.10" x2="367.60" y2="330.25" stroke="#000" stroke-width="1.4"/>
<line x1="366.90" y1="329.55" x2="511.50" y2="329.55" stroke="#000" stroke-width="1.4"/>
<line x1="363.70" y1="325.80" x2="367.60" y2="325.80" stroke="#000" stroke-width="1.3"/>
<line x1="363.70" y1="314.88" x2="367.60" y2="314.88" stroke="#000" stroke-width="1.3"/>
<line x1="363.70" y1="303.95" x2="367.60" y2="303.95" stroke="#000" stroke-width="1.3"/>
<line x1="363.70" y1="293.03" x2="367.60" y2="293.03" stroke="#000" stroke-width="1.3"/>
<line x1="363.70" y1="282.10" x2="367.60" y2="282.10" stroke="#000" stroke-width="1.3"/>
<line x1="363.70" y1="271.18" x2="367.60" y2="271.18" stroke="#000" stroke-width="1.3"/>
<line x1="363.70" y1="260.25" x2="367.60" y2="260.25" stroke="#000" stroke-width="1.3"/>
<line x1="363.70" y1="249.32" x2="367.60" y2="249.32" stroke="#000" stroke-width="1.3"/>
<line x1="363.70" y1="238.40" x2="367.60" y2="238.40" stroke="#000" stroke-width="1.3"/>
<line x1="372.60" y1="329.55" x2="372.60" y2="333.05" stroke="#000" stroke-width="1.25"/>
<line x1="386.00" y1="329.55" x2="386.00" y2="333.05" stroke="#000" stroke-width="1.25"/>
<line x1="399.39" y1="329.55" x2="399.39" y2="333.05" stroke="#000" stroke-width="1.25"/>
<line x1="412.79" y1="329.55" x2="412.79" y2="333.05" stroke="#000" stroke-width="1.25"/>
<line x1="426.18" y1="329.55" x2="426.18" y2="333.05" stroke="#000" stroke-width="1.25"/>
<line x1="439.58" y1="329.55" x2="439.58" y2="333.05" stroke="#000" stroke-width="1.25"/>
<line x1="452.97" y1="329.55" x2="452.97" y2="333.05" stroke="#000" stroke-width="1.25"/>
<line x1="466.37" y1="329.55" x2="466.37" y2="333.05" stroke="#000" stroke-width="1.25"/>
<line x1="479.76" y1="329.55" x2="479.76" y2="333.05" stroke="#000" stroke-width="1.25"/>
<line x1="493.16" y1="329.55" x2="493.16" y2="333.05" stroke="#000" stroke-width="1.25"/>
<line x1="506.55" y1="329.55" x2="506.55" y2="333.05" stroke="#000" stroke-width="1.25"/>
<text x="359.90" y="328.80" font-size="9.0" text-anchor="end" fill="#1a1a1a" stroke="#1a1a1a" stroke-width="0.06" textLength="12.50" lengthAdjust="spacingAndGlyphs">0 %</text>
<text x="359.90" y="306.95" font-size="9.0" text-anchor="end" fill="#1a1a1a" stroke="#1a1a1a" stroke-width="0.06" textLength="17.00" lengthAdjust="spacingAndGlyphs">25 %</text>
<text x="359.90" y="285.10" font-size="9.0" text-anchor="end" fill="#1a1a1a" stroke="#1a1a1a" stroke-width="0.06" textLength="17.00" lengthAdjust="spacingAndGlyphs">50 %</text>
<text x="359.90" y="263.25" font-size="9.0" text-anchor="end" fill="#1a1a1a" stroke="#1a1a1a" stroke-width="0.06" textLength="17.00" lengthAdjust="spacingAndGlyphs">75 %</text>
<text x="359.90" y="241.40" font-size="9.0" text-anchor="end" fill="#1a1a1a" stroke="#1a1a1a" stroke-width="0.06" textLength="20.50" lengthAdjust="spacingAndGlyphs">100 %</text>
<text x="372.60" y="342.80" font-size="9.6" text-anchor="middle" fill="#1a1a1a" stroke="#1a1a1a" stroke-width="0.06" textLength="4.60" lengthAdjust="spacingAndGlyphs">0</text>
<text x="386.00" y="342.80" font-size="9.6" text-anchor="middle" fill="#1a1a1a" stroke="#1a1a1a" stroke-width="0.06" textLength="4.60" lengthAdjust="spacingAndGlyphs">3</text>
<text x="399.39" y="342.80" font-size="9.6" text-anchor="middle" fill="#1a1a1a" stroke="#1a1a1a" stroke-width="0.06" textLength="4.60" lengthAdjust="spacingAndGlyphs">6</text>
<text x="412.79" y="342.80" font-size="9.6" text-anchor="middle" fill="#1a1a1a" stroke="#1a1a1a" stroke-width="0.06" textLength="4.60" lengthAdjust="spacingAndGlyphs">9</text>
<text x="426.18" y="342.80" font-size="9.6" text-anchor="middle" fill="#1a1a1a" stroke="#1a1a1a" stroke-width="0.06" textLength="8.50" lengthAdjust="spacingAndGlyphs">12</text>
<text x="439.58" y="342.80" font-size="9.6" text-anchor="middle" fill="#1a1a1a" stroke="#1a1a1a" stroke-width="0.06" textLength="8.50" lengthAdjust="spacingAndGlyphs">15</text>
<text x="452.97" y="342.80" font-size="9.6" text-anchor="middle" fill="#1a1a1a" stroke="#1a1a1a" stroke-width="0.06" textLength="8.50" lengthAdjust="spacingAndGlyphs">18</text>
<text x="466.37" y="342.80" font-size="9.6" text-anchor="middle" fill="#1a1a1a" stroke="#1a1a1a" stroke-width="0.06" textLength="8.50" lengthAdjust="spacingAndGlyphs">21</text>
<text x="479.76" y="342.80" font-size="9.6" text-anchor="middle" fill="#1a1a1a" stroke="#1a1a1a" stroke-width="0.06" textLength="8.50" lengthAdjust="spacingAndGlyphs">24</text>
<text x="493.16" y="342.80" font-size="9.6" text-anchor="middle" fill="#1a1a1a" stroke="#1a1a1a" stroke-width="0.06" textLength="8.50" lengthAdjust="spacingAndGlyphs">27</text>
<text x="506.55" y="342.80" font-size="9.6" text-anchor="middle" fill="#1a1a1a" stroke="#1a1a1a" stroke-width="0.06" textLength="8.50" lengthAdjust="spacingAndGlyphs">30</text>
<text x="0" y="0" font-size="10.0" text-anchor="middle" fill="#1a1a1a" stroke="#1a1a1a" stroke-width="0.06" transform="translate(334.40,281.60) rotate(-90)" textLength="69.5" lengthAdjust="spacingAndGlyphs">Survival probability</text>
<text x="439.60" y="357.70" font-size="10.8" text-anchor="middle" fill="#1a1a1a" stroke="#1a1a1a" stroke-width="0.06" textLength="55.20" lengthAdjust="spacingAndGlyphs">Time in months</text>
<text x="421.00" y="231.90" font-size="10.0" text-anchor="middle" fill="#1a1a1a" stroke="#1a1a1a" stroke-width="0.2" textLength="20.70" lengthAdjust="spacingAndGlyphs">dFLC</text>
<text x="372.30" y="322.70" font-size="8.4" text-anchor="start" fill="#2a2a2a" stroke="#2a2a2a" stroke-width="0.05" textLength="33.20" lengthAdjust="spacingAndGlyphs">p=0.0001</text>
<line x1="426.18" y1="236.20" x2="426.18" y2="329.55" stroke="#000" stroke-width="1.15" stroke-dasharray="3.9 2.3" stroke-dashoffset="1.5"/>
<path d="M372.90 238.30 L375.40 238.30 L375.40 239.00 L388.80 239.00 L388.80 240.80 L396.50 240.80 L396.50 242.50 L398.60 242.50 L398.60 244.60 L400.00 244.60 L400.00 246.50 L403.50 246.50 L403.50 247.40 L404.90 247.40 L404.90 249.10 L416.10 249.10 L416.10 250.50 L418.20 250.50 L418.20 252.40 L424.60 252.40 L424.60 254.50 L426.00 254.50 L426.00 257.40 L441.90 257.40 L441.90 259.40 L458.80 259.40 L458.80 261.90 L464.40 261.90 L464.40 264.70 L469.30 264.70 L469.30 267.40 L480.20 267.40 L480.20 270.20 L506.80 270.20 L506.80 270.20" fill="none" stroke="#21417c" stroke-width="1.6" stroke-linejoin="miter"/>
<path d="M372.90 238.30 L374.70 238.30 L374.70 239.70 L377.50 239.70 L377.50 243.20 L378.20 243.20 L378.20 247.20 L384.10 247.20 L384.10 250.25 L385.25 250.25 L385.25 254.50 L387.40 254.50 L387.40 260.10 L388.80 260.10 L388.80 265.70 L392.30 265.70 L392.30 267.10 L394.40 267.10 L394.40 270.60 L403.50 270.60 L403.50 273.40 L405.60 273.40 L405.60 277.60 L413.30 277.60 L413.30 280.40 L414.70 280.40 L414.70 283.20 L428.10 283.20 L428.10 285.50 L438.40 285.50 L438.40 288.90 L448.90 288.90 L448.90 292.60 L463.70 292.60 L463.70 296.90 L468.20 296.90 L468.20 301.80 L486.80 301.80 L486.80 306.70 L506.80 306.70 L506.80 306.70" fill="none" stroke="#ad0f38" stroke-width="1.6" stroke-linejoin="miter"/>
<text x="353.30" y="369.80" font-size="8.4" text-anchor="start" fill="#1a1a1a" stroke="#1a1a1a" stroke-width="0.08" textLength="50.50" lengthAdjust="spacingAndGlyphs">Number at risk</text>
<text x="302.30" y="382.00" font-size="8.5" text-anchor="start" fill="#34548c" stroke="#34548c" stroke-width="0.05" textLength="55.60" lengthAdjust="spacingAndGlyphs">dFLC ≤ 180mg/l</text>
<text x="362.70" y="382.00" font-size="8.5" text-anchor="middle" fill="#34548c" stroke="#34548c" stroke-width="0.06">:</text>
<text x="372.60" y="382.00" font-size="9.0" text-anchor="middle" fill="#34548c" stroke="#34548c" stroke-width="0.08" textLength="8.30" lengthAdjust="spacingAndGlyphs">68</text>
<text x="386.00" y="382.00" font-size="9.0" text-anchor="middle" fill="#34548c" stroke="#34548c" stroke-width="0.08" textLength="8.30" lengthAdjust="spacingAndGlyphs">65</text>
<text x="399.39" y="382.00" font-size="9.0" text-anchor="middle" fill="#34548c" stroke="#34548c" stroke-width="0.08" textLength="8.30" lengthAdjust="spacingAndGlyphs">57</text>
<text x="412.79" y="382.00" font-size="9.0" text-anchor="middle" fill="#34548c" stroke="#34548c" stroke-width="0.08" textLength="8.30" lengthAdjust="spacingAndGlyphs">51</text>
<text x="426.18" y="382.00" font-size="9.0" text-anchor="middle" fill="#34548c" stroke="#34548c" stroke-width="0.08" textLength="8.30" lengthAdjust="spacingAndGlyphs">40</text>
<text x="439.58" y="382.00" font-size="9.0" text-anchor="middle" fill="#34548c" stroke="#34548c" stroke-width="0.08" textLength="8.30" lengthAdjust="spacingAndGlyphs">34</text>
<text x="452.97" y="382.00" font-size="9.0" text-anchor="middle" fill="#34548c" stroke="#34548c" stroke-width="0.08" textLength="8.30" lengthAdjust="spacingAndGlyphs">29</text>
<text x="466.37" y="382.00" font-size="9.0" text-anchor="middle" fill="#34548c" stroke="#34548c" stroke-width="0.08" textLength="8.30" lengthAdjust="spacingAndGlyphs">23</text>
<text x="479.76" y="382.00" font-size="9.0" text-anchor="middle" fill="#34548c" stroke="#34548c" stroke-width="0.08" textLength="8.30" lengthAdjust="spacingAndGlyphs">20</text>
<text x="493.16" y="382.00" font-size="9.0" text-anchor="middle" fill="#34548c" stroke="#34548c" stroke-width="0.08" textLength="8.30" lengthAdjust="spacingAndGlyphs">15</text>
<text x="506.55" y="382.00" font-size="9.0" text-anchor="middle" fill="#34548c" stroke="#34548c" stroke-width="0.08" textLength="8.30" lengthAdjust="spacingAndGlyphs">10</text>
<text x="302.30" y="393.60" font-size="8.5" text-anchor="start" fill="#b0183c" stroke="#b0183c" stroke-width="0.05" textLength="55.60" lengthAdjust="spacingAndGlyphs">dFLC &gt; 180mg/l</text>
<text x="362.70" y="393.60" font-size="8.5" text-anchor="middle" fill="#b0183c" stroke="#b0183c" stroke-width="0.06">:</text>
<text x="372.60" y="393.60" font-size="9.0" text-anchor="middle" fill="#b0183c" stroke="#b0183c" stroke-width="0.08" textLength="8.30" lengthAdjust="spacingAndGlyphs">38</text>
<text x="386.00" y="393.60" font-size="9.0" text-anchor="middle" fill="#b0183c" stroke="#b0183c" stroke-width="0.08" textLength="8.30" lengthAdjust="spacingAndGlyphs">29</text>
<text x="399.39" y="393.60" font-size="9.0" text-anchor="middle" fill="#b0183c" stroke="#b0183c" stroke-width="0.08" textLength="8.30" lengthAdjust="spacingAndGlyphs">23</text>
<text x="412.79" y="393.60" font-size="9.0" text-anchor="middle" fill="#b0183c" stroke="#b0183c" stroke-width="0.08" textLength="8.30" lengthAdjust="spacingAndGlyphs">18</text>
<text x="426.18" y="393.60" font-size="9.0" text-anchor="middle" fill="#b0183c" stroke="#b0183c" stroke-width="0.08" textLength="8.30" lengthAdjust="spacingAndGlyphs">17</text>
<text x="439.58" y="393.60" font-size="9.0" text-anchor="middle" fill="#b0183c" stroke="#b0183c" stroke-width="0.08" textLength="8.30" lengthAdjust="spacingAndGlyphs">12</text>
<text x="452.97" y="393.60" font-size="9.0" text-anchor="middle" fill="#b0183c" stroke="#b0183c" stroke-width="0.08" textLength="4.40" lengthAdjust="spacingAndGlyphs">9</text>
<text x="466.37" y="393.60" font-size="9.0" text-anchor="middle" fill="#b0183c" stroke="#b0183c" stroke-width="0.08" textLength="4.40" lengthAdjust="spacingAndGlyphs">7</text>
<text x="479.76" y="393.60" font-size="9.0" text-anchor="middle" fill="#b0183c" stroke="#b0183c" stroke-width="0.08" textLength="4.40" lengthAdjust="spacingAndGlyphs">5</text>
<text x="493.16" y="393.60" font-size="9.0" text-anchor="middle" fill="#b0183c" stroke="#b0183c" stroke-width="0.08" textLength="4.40" lengthAdjust="spacingAndGlyphs">3</text>
<text x="506.55" y="393.60" font-size="9.0" text-anchor="middle" fill="#b0183c" stroke="#b0183c" stroke-width="0.08" textLength="4.40" lengthAdjust="spacingAndGlyphs">3</text>
<line x1="104.90" y1="428.10" x2="104.90" y2="519.45" stroke="#000" stroke-width="1.4"/>
<line x1="104.20" y1="518.75" x2="246.40" y2="518.75" stroke="#000" stroke-width="1.4"/>
<line x1="101.00" y1="515.80" x2="104.90" y2="515.80" stroke="#000" stroke-width="1.3"/>
<line x1="101.00" y1="505.22" x2="104.90" y2="505.22" stroke="#000" stroke-width="1.3"/>
<line x1="101.00" y1="494.65" x2="104.90" y2="494.65" stroke="#000" stroke-width="1.3"/>
<line x1="101.00" y1="484.07" x2="104.90" y2="484.07" stroke="#000" stroke-width="1.3"/>
<line x1="101.00" y1="473.50" x2="104.90" y2="473.50" stroke="#000" stroke-width="1.3"/>
<line x1="101.00" y1="462.92" x2="104.90" y2="462.92" stroke="#000" stroke-width="1.3"/>
<line x1="101.00" y1="452.35" x2="104.90" y2="452.35" stroke="#000" stroke-width="1.3"/>
<line x1="101.00" y1="441.77" x2="104.90" y2="441.77" stroke="#000" stroke-width="1.3"/>
<line x1="101.00" y1="431.20" x2="104.90" y2="431.20" stroke="#000" stroke-width="1.3"/>
<line x1="109.90" y1="518.75" x2="109.90" y2="522.25" stroke="#000" stroke-width="1.25"/>
<line x1="123.20" y1="518.75" x2="123.20" y2="522.25" stroke="#000" stroke-width="1.25"/>
<line x1="136.50" y1="518.75" x2="136.50" y2="522.25" stroke="#000" stroke-width="1.25"/>
<line x1="149.80" y1="518.75" x2="149.80" y2="522.25" stroke="#000" stroke-width="1.25"/>
<line x1="163.10" y1="518.75" x2="163.10" y2="522.25" stroke="#000" stroke-width="1.25"/>
<line x1="176.40" y1="518.75" x2="176.40" y2="522.25" stroke="#000" stroke-width="1.25"/>
<line x1="189.69" y1="518.75" x2="189.69" y2="522.25" stroke="#000" stroke-width="1.25"/>
<line x1="202.99" y1="518.75" x2="202.99" y2="522.25" stroke="#000" stroke-width="1.25"/>
<line x1="216.29" y1="518.75" x2="216.29" y2="522.25" stroke="#000" stroke-width="1.25"/>
<line x1="229.59" y1="518.75" x2="229.59" y2="522.25" stroke="#000" stroke-width="1.25"/>
<line x1="242.89" y1="518.75" x2="242.89" y2="522.25" stroke="#000" stroke-width="1.25"/>
<text x="97.30" y="518.80" font-size="9.0" text-anchor="end" fill="#1a1a1a" stroke="#1a1a1a" stroke-width="0.06" textLength="12.50" lengthAdjust="spacingAndGlyphs">0 %</text>
<text x="97.30" y="497.65" font-size="9.0" text-anchor="end" fill="#1a1a1a" stroke="#1a1a1a" stroke-width="0.06" textLength="17.00" lengthAdjust="spacingAndGlyphs">25 %</text>
<text x="97.30" y="476.50" font-size="9.0" text-anchor="end" fill="#1a1a1a" stroke="#1a1a1a" stroke-width="0.06" textLength="17.00" lengthAdjust="spacingAndGlyphs">50 %</text>
<text x="97.30" y="455.35" font-size="9.0" text-anchor="end" fill="#1a1a1a" stroke="#1a1a1a" stroke-width="0.06" textLength="17.00" lengthAdjust="spacingAndGlyphs">75 %</text>
<text x="97.30" y="434.20" font-size="9.0" text-anchor="end" fill="#1a1a1a" stroke="#1a1a1a" stroke-width="0.06" textLength="20.50" lengthAdjust="spacingAndGlyphs">100 %</text>
<text x="109.90" y="532.40" font-size="9.6" text-anchor="middle" fill="#1a1a1a" stroke="#1a1a1a" stroke-width="0.06" textLength="4.60" lengthAdjust="spacingAndGlyphs">0</text>
<text x="123.20" y="532.40" font-size="9.6" text-anchor="middle" fill="#1a1a1a" stroke="#1a1a1a" stroke-width="0.06" textLength="4.60" lengthAdjust="spacingAndGlyphs">3</text>
<text x="136.50" y="532.40" font-size="9.6" text-anchor="middle" fill="#1a1a1a" stroke="#1a1a1a" stroke-width="0.06" textLength="4.60" lengthAdjust="spacingAndGlyphs">6</text>
<text x="149.80" y="532.40" font-size="9.6" text-anchor="middle" fill="#1a1a1a" stroke="#1a1a1a" stroke-width="0.06" textLength="4.60" lengthAdjust="spacingAndGlyphs">9</text>
<text x="163.10" y="532.40" font-size="9.6" text-anchor="middle" fill="#1a1a1a" stroke="#1a1a1a" stroke-width="0.06" textLength="8.50" lengthAdjust="spacingAndGlyphs">12</text>
<text x="176.40" y="532.40" font-size="9.6" text-anchor="middle" fill="#1a1a1a" stroke="#1a1a1a" stroke-width="0.06" textLength="8.50" lengthAdjust="spacingAndGlyphs">15</text>
<text x="189.69" y="532.40" font-size="9.6" text-anchor="middle" fill="#1a1a1a" stroke="#1a1a1a" stroke-width="0.06" textLength="8.50" lengthAdjust="spacingAndGlyphs">18</text>
<text x="202.99" y="532.40" font-size="9.6" text-anchor="middle" fill="#1a1a1a" stroke="#1a1a1a" stroke-width="0.06" textLength="8.50" lengthAdjust="spacingAndGlyphs">21</text>
<text x="216.29" y="532.40" font-size="9.6" text-anchor="middle" fill="#1a1a1a" stroke="#1a1a1a" stroke-width="0.06" textLength="8.50" lengthAdjust="spacingAndGlyphs">24</text>
<text x="229.59" y="532.40" font-size="9.6" text-anchor="middle" fill="#1a1a1a" stroke="#1a1a1a" stroke-width="0.06" textLength="8.50" lengthAdjust="spacingAndGlyphs">27</text>
<text x="242.89" y="532.40" font-size="9.6" text-anchor="middle" fill="#1a1a1a" stroke="#1a1a1a" stroke-width="0.06" textLength="8.50" lengthAdjust="spacingAndGlyphs">30</text>
<text x="0" y="0" font-size="10.0" text-anchor="middle" fill="#1a1a1a" stroke="#1a1a1a" stroke-width="0.06" transform="translate(70.60,472.80) rotate(-90)" textLength="69.5" lengthAdjust="spacingAndGlyphs">Survival probability</text>
<text x="167.10" y="547.30" font-size="10.8" text-anchor="middle" fill="#1a1a1a" stroke="#1a1a1a" stroke-width="0.06" textLength="55.80" lengthAdjust="spacingAndGlyphs">Time in months</text>
<text x="158.50" y="422.10" font-size="10.0" text-anchor="middle" fill="#1a1a1a" stroke="#1a1a1a" stroke-width="0.2" textLength="21.90" lengthAdjust="spacingAndGlyphs">eGFR</text>
<text x="108.10" y="514.10" font-size="8.4" text-anchor="start" fill="#2a2a2a" stroke="#2a2a2a" stroke-width="0.05" textLength="24.20" lengthAdjust="spacingAndGlyphs">p=0.02</text>
<line x1="163.10" y1="429.50" x2="163.10" y2="518.75" stroke="#000" stroke-width="1.15" stroke-dasharray="3.9 2.3" stroke-dashoffset="1.5"/>
<path d="M109.90 430.90 L115.90 430.90 L115.90 433.70 L118.00 433.70 L118.00 435.50 L120.10 435.50 L120.10 437.40 L121.50 437.40 L121.50 439.70 L123.00 439.70 L123.00 442.50 L124.40 442.50 L124.40 444.70 L133.50 444.70 L133.50 446.80 L134.90 446.80 L134.90 449.10 L136.30 449.10 L136.30 451.40 L139.80 451.40 L139.80 453.80 L150.30 453.80 L150.30 457.60 L156.60 457.60 L156.60 458.70 L159.50 458.70 L159.50 459.80 L162.30 459.80 L162.30 461.80 L163.00 461.80 L163.00 465.70 L165.80 465.70 L165.80 467.80 L183.40 467.80 L183.40 470.60 L185.10 470.60 L185.10 474.80 L205.90 474.80 L205.90 478.10 L217.10 478.10 L217.10 480.50 L222.70 480.50 L222.70 483.30 L237.50 483.30 L237.50 487.10 L243.10 487.10 L243.10 487.10" fill="none" stroke="#21417c" stroke-width="1.6" stroke-linejoin="miter"/>
<path d="M109.90 430.90 L111.70 430.90 L111.70 432.30 L114.50 432.30 L114.50 435.50 L115.20 435.50 L115.20 439.00 L118.00 439.00 L118.00 439.70 L120.10 439.70 L120.10 441.80 L122.25 441.80 L122.25 444.00 L123.00 444.00 L123.00 447.50 L123.65 447.50 L123.65 452.40 L125.10 452.40 L125.10 455.20 L125.80 455.20 L125.80 457.00 L128.60 457.00 L128.60 458.00 L129.30 458.00 L129.30 461.80 L132.10 461.80 L132.10 464.30 L134.20 464.30 L134.20 467.10 L137.00 467.10 L137.00 469.20 L139.80 469.20 L139.80 470.20 L140.50 470.20 L140.50 473.90 L147.50 473.90 L147.50 475.30 L153.10 475.30 L153.10 477.60 L155.20 477.60 L155.20 480.50 L157.30 480.50 L157.30 482.60 L160.90 482.60 L160.90 483.70 L163.00 483.70 L163.00 485.40 L177.50 485.40 L177.50 488.90 L216.40 488.90 L216.40 494.10 L243.10 494.10 L243.10 494.10" fill="none" stroke="#ad0f38" stroke-width="1.6" stroke-linejoin="miter"/>
<text x="91.20" y="558.90" font-size="8.4" text-anchor="start" fill="#1a1a1a" stroke="#1a1a1a" stroke-width="0.08" textLength="50.50" lengthAdjust="spacingAndGlyphs">Number at risk</text>
<text x="8.80" y="572.70" font-size="8.5" text-anchor="start" fill="#34548c" stroke="#34548c" stroke-width="0.05" textLength="87.00" lengthAdjust="spacingAndGlyphs">eGFR ≥ 50ml/min/1 73m<tspan font-size="6.5" dy="-1.6">²</tspan></text>
<text x="101.00" y="572.70" font-size="8.5" text-anchor="middle" fill="#34548c" stroke="#34548c" stroke-width="0.06">:</text>
<text x="109.90" y="571.70" font-size="9.0" text-anchor="middle" fill="#34548c" stroke="#34548c" stroke-width="0.08" textLength="8.30" lengthAdjust="spacingAndGlyphs">49</text>
<text x="123.20" y="571.70" font-size="9.0" text-anchor="middle" fill="#34548c" stroke="#34548c" stroke-width="0.08" textLength="8.30" lengthAdjust="spacingAndGlyphs">42</text>
<text x="136.50" y="571.70" font-size="9.0" text-anchor="middle" fill="#34548c" stroke="#34548c" stroke-width="0.08" textLength="8.30" lengthAdjust="spacingAndGlyphs">35</text>
<text x="149.80" y="571.70" font-size="9.0" text-anchor="middle" fill="#34548c" stroke="#34548c" stroke-width="0.08" textLength="8.30" lengthAdjust="spacingAndGlyphs">31</text>
<text x="163.10" y="571.70" font-size="9.0" text-anchor="middle" fill="#34548c" stroke="#34548c" stroke-width="0.08" textLength="8.30" lengthAdjust="spacingAndGlyphs">24</text>
<text x="176.40" y="571.70" font-size="9.0" text-anchor="middle" fill="#34548c" stroke="#34548c" stroke-width="0.08" textLength="8.30" lengthAdjust="spacingAndGlyphs">20</text>
<text x="189.69" y="571.70" font-size="9.0" text-anchor="middle" fill="#34548c" stroke="#34548c" stroke-width="0.08" textLength="8.30" lengthAdjust="spacingAndGlyphs">17</text>
<text x="202.99" y="571.70" font-size="9.0" text-anchor="middle" fill="#34548c" stroke="#34548c" stroke-width="0.08" textLength="8.30" lengthAdjust="spacingAndGlyphs">15</text>
<text x="216.29" y="571.70" font-size="9.0" text-anchor="middle" fill="#34548c" stroke="#34548c" stroke-width="0.08" textLength="8.30" lengthAdjust="spacingAndGlyphs">14</text>
<text x="229.59" y="571.70" font-size="9.0" text-anchor="middle" fill="#34548c" stroke="#34548c" stroke-width="0.08" textLength="8.30" lengthAdjust="spacingAndGlyphs">10</text>
<text x="242.89" y="571.70" font-size="9.0" text-anchor="middle" fill="#34548c" stroke="#34548c" stroke-width="0.08" textLength="4.40" lengthAdjust="spacingAndGlyphs">8</text>
<text x="8.80" y="583.90" font-size="8.5" text-anchor="start" fill="#b0183c" stroke="#b0183c" stroke-width="0.05" textLength="87.00" lengthAdjust="spacingAndGlyphs">eGFR &lt; 50ml/min/1 73m<tspan font-size="6.5" dy="-1.6">²</tspan></text>
<text x="101.00" y="583.90" font-size="8.5" text-anchor="middle" fill="#b0183c" stroke="#b0183c" stroke-width="0.06">:</text>
<text x="109.90" y="582.90" font-size="9.0" text-anchor="middle" fill="#b0183c" stroke="#b0183c" stroke-width="0.08" textLength="8.30" lengthAdjust="spacingAndGlyphs">57</text>
<text x="123.20" y="582.90" font-size="9.0" text-anchor="middle" fill="#b0183c" stroke="#b0183c" stroke-width="0.08" textLength="8.30" lengthAdjust="spacingAndGlyphs">44</text>
<text x="136.50" y="582.90" font-size="9.0" text-anchor="middle" fill="#b0183c" stroke="#b0183c" stroke-width="0.08" textLength="8.30" lengthAdjust="spacingAndGlyphs">28</text>
<text x="149.80" y="582.90" font-size="9.0" text-anchor="middle" fill="#b0183c" stroke="#b0183c" stroke-width="0.08" textLength="8.30" lengthAdjust="spacingAndGlyphs">22</text>
<text x="163.10" y="582.90" font-size="9.0" text-anchor="middle" fill="#b0183c" stroke="#b0183c" stroke-width="0.08" textLength="8.30" lengthAdjust="spacingAndGlyphs">14</text>
<text x="176.40" y="582.90" font-size="9.0" text-anchor="middle" fill="#b0183c" stroke="#b0183c" stroke-width="0.08" textLength="4.40" lengthAdjust="spacingAndGlyphs">9</text>
<text x="189.69" y="582.90" font-size="9.0" text-anchor="middle" fill="#b0183c" stroke="#b0183c" stroke-width="0.08" textLength="4.40" lengthAdjust="spacingAndGlyphs">5</text>
<text x="202.99" y="582.90" font-size="9.0" text-anchor="middle" fill="#b0183c" stroke="#b0183c" stroke-width="0.08" textLength="4.40" lengthAdjust="spacingAndGlyphs">5</text>
<text x="216.29" y="582.90" font-size="9.0" text-anchor="middle" fill="#b0183c" stroke="#b0183c" stroke-width="0.08" textLength="4.40" lengthAdjust="spacingAndGlyphs">5</text>
<text x="229.59" y="582.90" font-size="9.0" text-anchor="middle" fill="#b0183c" stroke="#b0183c" stroke-width="0.08" textLength="4.40" lengthAdjust="spacingAndGlyphs">2</text>
<text x="242.89" y="582.90" font-size="9.0" text-anchor="middle" fill="#b0183c" stroke="#b0183c" stroke-width="0.08" textLength="4.40" lengthAdjust="spacingAndGlyphs">1</text>
<line x1="367.60" y1="426.90" x2="367.60" y2="519.55" stroke="#000" stroke-width="1.4"/>
<line x1="366.90" y1="518.85" x2="511.80" y2="518.85" stroke="#000" stroke-width="1.4"/>
<line x1="363.70" y1="515.10" x2="367.60" y2="515.10" stroke="#000" stroke-width="1.3"/>
<line x1="363.70" y1="504.46" x2="367.60" y2="504.46" stroke="#000" stroke-width="1.3"/>
<line x1="363.70" y1="493.83" x2="367.60" y2="493.83" stroke="#000" stroke-width="1.3"/>
<line x1="363.70" y1="483.19" x2="367.60" y2="483.19" stroke="#000" stroke-width="1.3"/>
<line x1="363.70" y1="472.55" x2="367.60" y2="472.55" stroke="#000" stroke-width="1.3"/>
<line x1="363.70" y1="461.91" x2="367.60" y2="461.91" stroke="#000" stroke-width="1.3"/>
<line x1="363.70" y1="451.27" x2="367.60" y2="451.27" stroke="#000" stroke-width="1.3"/>
<line x1="363.70" y1="440.64" x2="367.60" y2="440.64" stroke="#000" stroke-width="1.3"/>
<line x1="363.70" y1="430.00" x2="367.60" y2="430.00" stroke="#000" stroke-width="1.3"/>
<line x1="372.60" y1="518.85" x2="372.60" y2="522.35" stroke="#000" stroke-width="1.25"/>
<line x1="386.00" y1="518.85" x2="386.00" y2="522.35" stroke="#000" stroke-width="1.25"/>
<line x1="399.40" y1="518.85" x2="399.40" y2="522.35" stroke="#000" stroke-width="1.25"/>
<line x1="412.80" y1="518.85" x2="412.80" y2="522.35" stroke="#000" stroke-width="1.25"/>
<line x1="426.20" y1="518.85" x2="426.20" y2="522.35" stroke="#000" stroke-width="1.25"/>
<line x1="439.61" y1="518.85" x2="439.61" y2="522.35" stroke="#000" stroke-width="1.25"/>
<line x1="453.01" y1="518.85" x2="453.01" y2="522.35" stroke="#000" stroke-width="1.25"/>
<line x1="466.41" y1="518.85" x2="466.41" y2="522.35" stroke="#000" stroke-width="1.25"/>
<line x1="479.81" y1="518.85" x2="479.81" y2="522.35" stroke="#000" stroke-width="1.25"/>
<line x1="493.21" y1="518.85" x2="493.21" y2="522.35" stroke="#000" stroke-width="1.25"/>
<line x1="506.61" y1="518.85" x2="506.61" y2="522.35" stroke="#000" stroke-width="1.25"/>
<text x="360.10" y="518.10" font-size="9.0" text-anchor="end" fill="#1a1a1a" stroke="#1a1a1a" stroke-width="0.06" textLength="12.50" lengthAdjust="spacingAndGlyphs">0 %</text>
<text x="360.10" y="496.83" font-size="9.0" text-anchor="end" fill="#1a1a1a" stroke="#1a1a1a" stroke-width="0.06" textLength="17.00" lengthAdjust="spacingAndGlyphs">25 %</text>
<text x="360.10" y="475.55" font-size="9.0" text-anchor="end" fill="#1a1a1a" stroke="#1a1a1a" stroke-width="0.06" textLength="17.00" lengthAdjust="spacingAndGlyphs">50 %</text>
<text x="360.10" y="454.27" font-size="9.0" text-anchor="end" fill="#1a1a1a" stroke="#1a1a1a" stroke-width="0.06" textLength="17.00" lengthAdjust="spacingAndGlyphs">75 %</text>
<text x="360.10" y="433.00" font-size="9.0" text-anchor="end" fill="#1a1a1a" stroke="#1a1a1a" stroke-width="0.06" textLength="20.50" lengthAdjust="spacingAndGlyphs">100 %</text>
<text x="372.60" y="532.60" font-size="9.6" text-anchor="middle" fill="#1a1a1a" stroke="#1a1a1a" stroke-width="0.06" textLength="4.60" lengthAdjust="spacingAndGlyphs">0</text>
<text x="386.00" y="532.60" font-size="9.6" text-anchor="middle" fill="#1a1a1a" stroke="#1a1a1a" stroke-width="0.06" textLength="4.60" lengthAdjust="spacingAndGlyphs">3</text>
<text x="399.40" y="532.60" font-size="9.6" text-anchor="middle" fill="#1a1a1a" stroke="#1a1a1a" stroke-width="0.06" textLength="4.60" lengthAdjust="spacingAndGlyphs">6</text>
<text x="412.80" y="532.60" font-size="9.6" text-anchor="middle" fill="#1a1a1a" stroke="#1a1a1a" stroke-width="0.06" textLength="4.60" lengthAdjust="spacingAndGlyphs">9</text>
<text x="426.20" y="532.60" font-size="9.6" text-anchor="middle" fill="#1a1a1a" stroke="#1a1a1a" stroke-width="0.06" textLength="8.50" lengthAdjust="spacingAndGlyphs">12</text>
<text x="439.61" y="532.60" font-size="9.6" text-anchor="middle" fill="#1a1a1a" stroke="#1a1a1a" stroke-width="0.06" textLength="8.50" lengthAdjust="spacingAndGlyphs">15</text>
<text x="453.01" y="532.60" font-size="9.6" text-anchor="middle" fill="#1a1a1a" stroke="#1a1a1a" stroke-width="0.06" textLength="8.50" lengthAdjust="spacingAndGlyphs">18</text>
<text x="466.41" y="532.60" font-size="9.6" text-anchor="middle" fill="#1a1a1a" stroke="#1a1a1a" stroke-width="0.06" textLength="8.50" lengthAdjust="spacingAndGlyphs">21</text>
<text x="479.81" y="532.60" font-size="9.6" text-anchor="middle" fill="#1a1a1a" stroke="#1a1a1a" stroke-width="0.06" textLength="8.50" lengthAdjust="spacingAndGlyphs">24</text>
<text x="493.21" y="532.60" font-size="9.6" text-anchor="middle" fill="#1a1a1a" stroke="#1a1a1a" stroke-width="0.06" textLength="8.50" lengthAdjust="spacingAndGlyphs">27</text>
<text x="506.61" y="532.60" font-size="9.6" text-anchor="middle" fill="#1a1a1a" stroke="#1a1a1a" stroke-width="0.06" textLength="8.50" lengthAdjust="spacingAndGlyphs">30</text>
<text x="0" y="0" font-size="10.0" text-anchor="middle" fill="#1a1a1a" stroke="#1a1a1a" stroke-width="0.06" transform="translate(333.30,472.30) rotate(-90)" textLength="69.5" lengthAdjust="spacingAndGlyphs">Survival probability</text>
<text x="439.50" y="547.00" font-size="10.8" text-anchor="middle" fill="#1a1a1a" stroke="#1a1a1a" stroke-width="0.06" textLength="54.90" lengthAdjust="spacingAndGlyphs">Time in months</text>
<text x="421.00" y="421.60" font-size="10.0" text-anchor="middle" fill="#1a1a1a" stroke="#1a1a1a" stroke-width="0.2" textLength="22.10" lengthAdjust="spacingAndGlyphs">eGFR</text>
<text x="372.00" y="513.60" font-size="8.4" text-anchor="start" fill="#2a2a2a" stroke="#2a2a2a" stroke-width="0.05" textLength="29.20" lengthAdjust="spacingAndGlyphs">p=0.066</text>
<line x1="426.20" y1="425.30" x2="426.20" y2="518.85" stroke="#000" stroke-width="1.15" stroke-dasharray="3.9 2.3" stroke-dashoffset="1.5"/>
<path d="M372.90 429.90 L378.20 429.90 L378.20 431.30 L385.25 431.30 L385.25 434.50 L396.50 434.50 L396.50 436.40 L399.30 436.40 L399.30 438.00 L402.80 438.00 L402.80 440.10 L414.00 440.10 L414.00 442.25 L415.40 442.25 L415.40 444.40 L426.70 444.40 L426.70 445.80 L428.80 445.80 L428.80 448.30 L441.90 448.30 L441.90 450.70 L448.90 450.70 L448.90 453.10 L469.30 453.10 L469.30 456.30 L469.60 456.30 L469.60 458.80 L487.30 458.80 L487.30 462.20 L506.80 462.20 L506.80 462.20" fill="none" stroke="#21417c" stroke-width="1.6" stroke-linejoin="miter"/>
<path d="M372.90 429.90 L374.70 429.90 L374.70 431.30 L377.50 431.30 L377.50 433.80 L378.50 433.80 L378.50 435.90 L383.80 435.90 L383.80 437.30 L385.25 437.30 L385.25 438.70 L386.70 438.70 L386.70 442.25 L388.10 442.25 L388.10 446.50 L391.60 446.50 L391.60 448.60 L395.10 448.60 L395.10 450.70 L397.90 450.70 L397.90 452.80 L401.40 452.80 L401.40 455.60 L403.50 455.60 L403.50 457.70 L406.30 457.70 L406.30 460.80 L415.40 460.80 L415.40 462.60 L417.50 462.60 L417.50 464.70 L425.30 464.70 L425.30 466.80 L426.00 466.80 L426.00 468.60 L438.30 468.60 L438.30 471.00 L459.20 471.00 L459.20 474.80 L464.40 474.80 L464.40 482.30 L480.50 482.30 L480.50 486.50 L506.80 486.50 L506.80 486.50" fill="none" stroke="#ad0f38" stroke-width="1.6" stroke-linejoin="miter"/>
<text x="353.25" y="558.80" font-size="8.4" text-anchor="start" fill="#1a1a1a" stroke="#1a1a1a" stroke-width="0.08" textLength="50.50" lengthAdjust="spacingAndGlyphs">Number at risk</text>
<text x="270.75" y="572.40" font-size="8.5" text-anchor="start" fill="#34548c" stroke="#34548c" stroke-width="0.05" textLength="87.00" lengthAdjust="spacingAndGlyphs">eGFR ≥ 50ml/min/1 73m<tspan font-size="6.5" dy="-1.6">²</tspan></text>
<text x="362.75" y="572.40" font-size="8.5" text-anchor="middle" fill="#34548c" stroke="#34548c" stroke-width="0.06">:</text>
<text x="372.60" y="571.40" font-size="9.0" text-anchor="middle" fill="#34548c" stroke="#34548c" stroke-width="0.08" textLength="8.30" lengthAdjust="spacingAndGlyphs">49</text>
<text x="386.00" y="571.40" font-size="9.0" text-anchor="middle" fill="#34548c" stroke="#34548c" stroke-width="0.08" textLength="8.30" lengthAdjust="spacingAndGlyphs">46</text>
<text x="399.40" y="571.40" font-size="9.0" text-anchor="middle" fill="#34548c" stroke="#34548c" stroke-width="0.08" textLength="8.30" lengthAdjust="spacingAndGlyphs">43</text>
<text x="412.80" y="571.40" font-size="9.0" text-anchor="middle" fill="#34548c" stroke="#34548c" stroke-width="0.08" textLength="8.30" lengthAdjust="spacingAndGlyphs">40</text>
<text x="426.20" y="571.40" font-size="9.0" text-anchor="middle" fill="#34548c" stroke="#34548c" stroke-width="0.08" textLength="8.30" lengthAdjust="spacingAndGlyphs">34</text>
<text x="439.61" y="571.40" font-size="9.0" text-anchor="middle" fill="#34548c" stroke="#34548c" stroke-width="0.08" textLength="8.30" lengthAdjust="spacingAndGlyphs">29</text>
<text x="453.01" y="571.40" font-size="9.0" text-anchor="middle" fill="#34548c" stroke="#34548c" stroke-width="0.08" textLength="8.30" lengthAdjust="spacingAndGlyphs">26</text>
<text x="466.41" y="571.40" font-size="9.0" text-anchor="middle" fill="#34548c" stroke="#34548c" stroke-width="0.08" textLength="8.30" lengthAdjust="spacingAndGlyphs">21</text>
<text x="479.81" y="571.40" font-size="9.0" text-anchor="middle" fill="#34548c" stroke="#34548c" stroke-width="0.08" textLength="8.30" lengthAdjust="spacingAndGlyphs">17</text>
<text x="493.21" y="571.40" font-size="9.0" text-anchor="middle" fill="#34548c" stroke="#34548c" stroke-width="0.08" textLength="8.30" lengthAdjust="spacingAndGlyphs">14</text>
<text x="506.61" y="571.40" font-size="9.0" text-anchor="middle" fill="#34548c" stroke="#34548c" stroke-width="0.08" textLength="8.30" lengthAdjust="spacingAndGlyphs">11</text>
<text x="270.75" y="583.90" font-size="8.5" text-anchor="start" fill="#b0183c" stroke="#b0183c" stroke-width="0.05" textLength="87.00" lengthAdjust="spacingAndGlyphs">eGFR &lt; 50ml/min/1 73m<tspan font-size="6.5" dy="-1.6">²</tspan></text>
<text x="362.75" y="583.90" font-size="8.5" text-anchor="middle" fill="#b0183c" stroke="#b0183c" stroke-width="0.06">:</text>
<text x="372.60" y="582.90" font-size="9.0" text-anchor="middle" fill="#b0183c" stroke="#b0183c" stroke-width="0.08" textLength="8.30" lengthAdjust="spacingAndGlyphs">57</text>
<text x="386.00" y="582.90" font-size="9.0" text-anchor="middle" fill="#b0183c" stroke="#b0183c" stroke-width="0.08" textLength="8.30" lengthAdjust="spacingAndGlyphs">48</text>
<text x="399.40" y="582.90" font-size="9.0" text-anchor="middle" fill="#b0183c" stroke="#b0183c" stroke-width="0.08" textLength="8.30" lengthAdjust="spacingAndGlyphs">37</text>
<text x="412.80" y="582.90" font-size="9.0" text-anchor="middle" fill="#b0183c" stroke="#b0183c" stroke-width="0.08" textLength="8.30" lengthAdjust="spacingAndGlyphs">29</text>
<text x="426.20" y="582.90" font-size="9.0" text-anchor="middle" fill="#b0183c" stroke="#b0183c" stroke-width="0.08" textLength="8.30" lengthAdjust="spacingAndGlyphs">23</text>
<text x="439.61" y="582.90" font-size="9.0" text-anchor="middle" fill="#b0183c" stroke="#b0183c" stroke-width="0.08" textLength="8.30" lengthAdjust="spacingAndGlyphs">17</text>
<text x="453.01" y="582.90" font-size="9.0" text-anchor="middle" fill="#b0183c" stroke="#b0183c" stroke-width="0.08" textLength="8.30" lengthAdjust="spacingAndGlyphs">12</text>
<text x="466.41" y="582.90" font-size="9.0" text-anchor="middle" fill="#b0183c" stroke="#b0183c" stroke-width="0.08" textLength="4.40" lengthAdjust="spacingAndGlyphs">9</text>
<text x="479.81" y="582.90" font-size="9.0" text-anchor="middle" fill="#b0183c" stroke="#b0183c" stroke-width="0.08" textLength="4.40" lengthAdjust="spacingAndGlyphs">8</text>
<text x="493.21" y="582.90" font-size="9.0" text-anchor="middle" fill="#b0183c" stroke="#b0183c" stroke-width="0.08" textLength="4.40" lengthAdjust="spacingAndGlyphs">4</text>
<text x="506.61" y="582.90" font-size="9.0" text-anchor="middle" fill="#b0183c" stroke="#b0183c" stroke-width="0.08" textLength="4.40" lengthAdjust="spacingAndGlyphs">2</text>
<line x1="104.90" y1="620.90" x2="104.90" y2="719.60" stroke="#000" stroke-width="1.4"/>
<line x1="104.20" y1="718.90" x2="242.70" y2="718.90" stroke="#000" stroke-width="1.4"/>
<line x1="101.00" y1="715.10" x2="104.90" y2="715.10" stroke="#000" stroke-width="1.3"/>
<line x1="101.00" y1="703.76" x2="104.90" y2="703.76" stroke="#000" stroke-width="1.3"/>
<line x1="101.00" y1="692.43" x2="104.90" y2="692.43" stroke="#000" stroke-width="1.3"/>
<line x1="101.00" y1="681.09" x2="104.90" y2="681.09" stroke="#000" stroke-width="1.3"/>
<line x1="101.00" y1="669.75" x2="104.90" y2="669.75" stroke="#000" stroke-width="1.3"/>
<line x1="101.00" y1="658.41" x2="104.90" y2="658.41" stroke="#000" stroke-width="1.3"/>
<line x1="101.00" y1="647.08" x2="104.90" y2="647.08" stroke="#000" stroke-width="1.3"/>
<line x1="101.00" y1="635.74" x2="104.90" y2="635.74" stroke="#000" stroke-width="1.3"/>
<line x1="101.00" y1="624.40" x2="104.90" y2="624.40" stroke="#000" stroke-width="1.3"/>
<line x1="110.00" y1="718.90" x2="110.00" y2="722.40" stroke="#000" stroke-width="1.25"/>
<line x1="122.92" y1="718.90" x2="122.92" y2="722.40" stroke="#000" stroke-width="1.25"/>
<line x1="135.84" y1="718.90" x2="135.84" y2="722.40" stroke="#000" stroke-width="1.25"/>
<line x1="148.76" y1="718.90" x2="148.76" y2="722.40" stroke="#000" stroke-width="1.25"/>
<line x1="161.68" y1="718.90" x2="161.68" y2="722.40" stroke="#000" stroke-width="1.25"/>
<line x1="174.61" y1="718.90" x2="174.61" y2="722.40" stroke="#000" stroke-width="1.25"/>
<line x1="187.53" y1="718.90" x2="187.53" y2="722.40" stroke="#000" stroke-width="1.25"/>
<line x1="200.45" y1="718.90" x2="200.45" y2="722.40" stroke="#000" stroke-width="1.25"/>
<line x1="213.37" y1="718.90" x2="213.37" y2="722.40" stroke="#000" stroke-width="1.25"/>
<line x1="226.29" y1="718.90" x2="226.29" y2="722.40" stroke="#000" stroke-width="1.25"/>
<line x1="239.21" y1="718.90" x2="239.21" y2="722.40" stroke="#000" stroke-width="1.25"/>
<text x="97.30" y="718.10" font-size="9.0" text-anchor="end" fill="#1a1a1a" stroke="#1a1a1a" stroke-width="0.06" textLength="12.50" lengthAdjust="spacingAndGlyphs">0 %</text>
<text x="97.30" y="695.43" font-size="9.0" text-anchor="end" fill="#1a1a1a" stroke="#1a1a1a" stroke-width="0.06" textLength="17.00" lengthAdjust="spacingAndGlyphs">25 %</text>
<text x="97.30" y="672.75" font-size="9.0" text-anchor="end" fill="#1a1a1a" stroke="#1a1a1a" stroke-width="0.06" textLength="17.00" lengthAdjust="spacingAndGlyphs">50 %</text>
<text x="97.30" y="650.08" font-size="9.0" text-anchor="end" fill="#1a1a1a" stroke="#1a1a1a" stroke-width="0.06" textLength="17.00" lengthAdjust="spacingAndGlyphs">75 %</text>
<text x="97.30" y="627.40" font-size="9.0" text-anchor="end" fill="#1a1a1a" stroke="#1a1a1a" stroke-width="0.06" textLength="20.50" lengthAdjust="spacingAndGlyphs">100 %</text>
<text x="110.00" y="732.60" font-size="9.6" text-anchor="middle" fill="#1a1a1a" stroke="#1a1a1a" stroke-width="0.06" textLength="4.60" lengthAdjust="spacingAndGlyphs">0</text>
<text x="122.92" y="732.60" font-size="9.6" text-anchor="middle" fill="#1a1a1a" stroke="#1a1a1a" stroke-width="0.06" textLength="4.60" lengthAdjust="spacingAndGlyphs">3</text>
<text x="135.84" y="732.60" font-size="9.6" text-anchor="middle" fill="#1a1a1a" stroke="#1a1a1a" stroke-width="0.06" textLength="4.60" lengthAdjust="spacingAndGlyphs">6</text>
<text x="148.76" y="732.60" font-size="9.6" text-anchor="middle" fill="#1a1a1a" stroke="#1a1a1a" stroke-width="0.06" textLength="4.60" lengthAdjust="spacingAndGlyphs">9</text>
<text x="161.68" y="732.60" font-size="9.6" text-anchor="middle" fill="#1a1a1a" stroke="#1a1a1a" stroke-width="0.06" textLength="8.50" lengthAdjust="spacingAndGlyphs">12</text>
<text x="174.61" y="732.60" font-size="9.6" text-anchor="middle" fill="#1a1a1a" stroke="#1a1a1a" stroke-width="0.06" textLength="8.50" lengthAdjust="spacingAndGlyphs">15</text>
<text x="187.53" y="732.60" font-size="9.6" text-anchor="middle" fill="#1a1a1a" stroke="#1a1a1a" stroke-width="0.06" textLength="8.50" lengthAdjust="spacingAndGlyphs">18</text>
<text x="200.45" y="732.60" font-size="9.6" text-anchor="middle" fill="#1a1a1a" stroke="#1a1a1a" stroke-width="0.06" textLength="8.50" lengthAdjust="spacingAndGlyphs">21</text>
<text x="213.37" y="732.60" font-size="9.6" text-anchor="middle" fill="#1a1a1a" stroke="#1a1a1a" stroke-width="0.06" textLength="8.50" lengthAdjust="spacingAndGlyphs">24</text>
<text x="226.29" y="732.60" font-size="9.6" text-anchor="middle" fill="#1a1a1a" stroke="#1a1a1a" stroke-width="0.06" textLength="8.50" lengthAdjust="spacingAndGlyphs">27</text>
<text x="239.21" y="732.60" font-size="9.6" text-anchor="middle" fill="#1a1a1a" stroke="#1a1a1a" stroke-width="0.06" textLength="8.50" lengthAdjust="spacingAndGlyphs">30</text>
<text x="0" y="0" font-size="10.0" text-anchor="middle" fill="#1a1a1a" stroke="#1a1a1a" stroke-width="0.06" transform="translate(70.60,670.10) rotate(-90)" textLength="69.5" lengthAdjust="spacingAndGlyphs">Survival probability</text>
<text x="173.70" y="747.20" font-size="10.8" text-anchor="middle" fill="#1a1a1a" stroke="#1a1a1a" stroke-width="0.06" textLength="55.00" lengthAdjust="spacingAndGlyphs">Time in months</text>
<text x="158.20" y="614.80" font-size="10.0" text-anchor="middle" fill="#1a1a1a" stroke="#1a1a1a" stroke-width="0.2" textLength="44.50" lengthAdjust="spacingAndGlyphs">NT-ProBNP</text>
<text x="108.00" y="712.70" font-size="8.4" text-anchor="start" fill="#2a2a2a" stroke="#2a2a2a" stroke-width="0.05" textLength="33.20" lengthAdjust="spacingAndGlyphs">p=0.0005</text>
<line x1="161.68" y1="621.60" x2="161.68" y2="718.90" stroke="#000" stroke-width="1.15" stroke-dasharray="3.9 2.3" stroke-dashoffset="1.5"/>
<path d="M109.90 623.90 L115.20 623.90 L115.20 625.70 L118.00 625.70 L118.00 627.80 L120.10 627.80 L120.10 630.00 L122.25 630.00 L122.25 632.00 L123.65 632.00 L123.65 635.50 L125.10 635.50 L125.10 640.50 L126.50 640.50 L126.50 642.60 L129.30 642.60 L129.30 644.70 L132.80 644.70 L132.80 645.40 L134.20 645.40 L134.20 648.20 L137.00 648.20 L137.00 648.90 L139.80 648.90 L139.80 652.00 L146.80 652.00 L146.80 653.80 L148.90 653.80 L148.90 656.60 L155.20 656.60 L155.20 657.30 L158.75 657.30 L158.75 658.70 L160.90 658.70 L160.90 660.80 L161.60 660.80 L161.60 664.30 L164.40 664.30 L164.40 666.20 L182.00 666.20 L182.00 669.20 L183.10 669.20 L183.10 672.50 L214.30 672.50 L214.30 675.30 L233.70 675.30 L233.70 679.10 L239.20 679.10 L239.20 679.10" fill="none" stroke="#21417c" stroke-width="1.6" stroke-linejoin="miter"/>
<path d="M109.90 623.90 L111.70 623.90 L111.70 626.10 L114.50 626.10 L114.50 632.00 L115.20 632.00 L115.20 639.80 L120.85 639.80 L120.85 643.30 L122.00 643.30 L122.00 646.80 L123.65 646.80 L123.65 652.80 L129.30 652.80 L129.30 655.90 L131.40 655.90 L131.40 659.40 L133.50 659.40 L133.50 663.60 L134.20 663.60 L134.20 667.10 L134.90 667.10 L134.90 670.60 L137.70 670.60 L137.70 673.50 L139.80 673.50 L139.80 676.30 L151.70 676.30 L151.70 679.10 L153.10 679.10 L153.10 682.60 L153.80 682.60 L153.80 686.10 L156.20 686.10 L156.20 689.10 L176.20 689.10 L176.20 694.50 L203.10 694.50 L203.10 701.50 L213.60 701.50 L213.60 708.10 L219.60 708.10 L219.60 716.20 L219.60 716.20 L219.60 716.20" fill="none" stroke="#ad0f38" stroke-width="1.6" stroke-linejoin="miter"/>
<text x="91.00" y="759.50" font-size="8.4" text-anchor="start" fill="#1a1a1a" stroke="#1a1a1a" stroke-width="0.08" textLength="50.50" lengthAdjust="spacingAndGlyphs">Number at risk</text>
<text x="17.40" y="771.70" font-size="8.5" text-anchor="start" fill="#34548c" stroke="#34548c" stroke-width="0.05" textLength="78.90" lengthAdjust="spacingAndGlyphs">NT-ProBNP ≤ 8500ng/l</text>
<text x="101.00" y="771.70" font-size="8.5" text-anchor="middle" fill="#34548c" stroke="#34548c" stroke-width="0.06">:</text>
<text x="110.00" y="771.70" font-size="9.0" text-anchor="middle" fill="#34548c" stroke="#34548c" stroke-width="0.08" textLength="8.30" lengthAdjust="spacingAndGlyphs">70</text>
<text x="122.92" y="771.70" font-size="9.0" text-anchor="middle" fill="#34548c" stroke="#34548c" stroke-width="0.08" textLength="8.30" lengthAdjust="spacingAndGlyphs">62</text>
<text x="135.84" y="771.70" font-size="9.0" text-anchor="middle" fill="#34548c" stroke="#34548c" stroke-width="0.08" textLength="8.30" lengthAdjust="spacingAndGlyphs">48</text>
<text x="148.76" y="771.70" font-size="9.0" text-anchor="middle" fill="#34548c" stroke="#34548c" stroke-width="0.08" textLength="8.30" lengthAdjust="spacingAndGlyphs">40</text>
<text x="161.68" y="771.70" font-size="9.0" text-anchor="middle" fill="#34548c" stroke="#34548c" stroke-width="0.08" textLength="8.30" lengthAdjust="spacingAndGlyphs">32</text>
<text x="174.61" y="771.70" font-size="9.0" text-anchor="middle" fill="#34548c" stroke="#34548c" stroke-width="0.08" textLength="8.30" lengthAdjust="spacingAndGlyphs">24</text>
<text x="187.53" y="771.70" font-size="9.0" text-anchor="middle" fill="#34548c" stroke="#34548c" stroke-width="0.08" textLength="8.30" lengthAdjust="spacingAndGlyphs">19</text>
<text x="200.45" y="771.70" font-size="9.0" text-anchor="middle" fill="#34548c" stroke="#34548c" stroke-width="0.08" textLength="8.30" lengthAdjust="spacingAndGlyphs">17</text>
<text x="213.37" y="771.70" font-size="9.0" text-anchor="middle" fill="#34548c" stroke="#34548c" stroke-width="0.08" textLength="8.30" lengthAdjust="spacingAndGlyphs">17</text>
<text x="226.29" y="771.70" font-size="9.0" text-anchor="middle" fill="#34548c" stroke="#34548c" stroke-width="0.08" textLength="8.30" lengthAdjust="spacingAndGlyphs">12</text>
<text x="239.21" y="771.70" font-size="9.0" text-anchor="middle" fill="#34548c" stroke="#34548c" stroke-width="0.08" textLength="4.40" lengthAdjust="spacingAndGlyphs">9</text>
<text x="17.40" y="783.10" font-size="8.5" text-anchor="start" fill="#b0183c" stroke="#b0183c" stroke-width="0.05" textLength="78.90" lengthAdjust="spacingAndGlyphs">NT-ProBNP &gt; 8500ng/l</text>
<text x="101.00" y="783.10" font-size="8.5" text-anchor="middle" fill="#b0183c" stroke="#b0183c" stroke-width="0.06">:</text>
<text x="110.00" y="783.10" font-size="9.0" text-anchor="middle" fill="#b0183c" stroke="#b0183c" stroke-width="0.08" textLength="8.30" lengthAdjust="spacingAndGlyphs">36</text>
<text x="122.92" y="783.10" font-size="9.0" text-anchor="middle" fill="#b0183c" stroke="#b0183c" stroke-width="0.08" textLength="8.30" lengthAdjust="spacingAndGlyphs">24</text>
<text x="135.84" y="783.10" font-size="9.0" text-anchor="middle" fill="#b0183c" stroke="#b0183c" stroke-width="0.08" textLength="8.30" lengthAdjust="spacingAndGlyphs">15</text>
<text x="148.76" y="783.10" font-size="9.0" text-anchor="middle" fill="#b0183c" stroke="#b0183c" stroke-width="0.08" textLength="8.30" lengthAdjust="spacingAndGlyphs">13</text>
<text x="161.68" y="783.10" font-size="9.0" text-anchor="middle" fill="#b0183c" stroke="#b0183c" stroke-width="0.08" textLength="4.40" lengthAdjust="spacingAndGlyphs">6</text>
<text x="174.61" y="783.10" font-size="9.0" text-anchor="middle" fill="#b0183c" stroke="#b0183c" stroke-width="0.08" textLength="4.40" lengthAdjust="spacingAndGlyphs">5</text>
<text x="187.53" y="783.10" font-size="9.0" text-anchor="middle" fill="#b0183c" stroke="#b0183c" stroke-width="0.08" textLength="4.40" lengthAdjust="spacingAndGlyphs">3</text>
<text x="200.45" y="783.10" font-size="9.0" text-anchor="middle" fill="#b0183c" stroke="#b0183c" stroke-width="0.08" textLength="4.40" lengthAdjust="spacingAndGlyphs">3</text>
<text x="213.37" y="783.10" font-size="9.0" text-anchor="middle" fill="#b0183c" stroke="#b0183c" stroke-width="0.08" textLength="4.40" lengthAdjust="spacingAndGlyphs">2</text>
<text x="226.29" y="783.10" font-size="9.0" text-anchor="middle" fill="#b0183c" stroke="#b0183c" stroke-width="0.08" textLength="4.40" lengthAdjust="spacingAndGlyphs">0</text>
<text x="239.21" y="783.10" font-size="9.0" text-anchor="middle" fill="#b0183c" stroke="#b0183c" stroke-width="0.08" textLength="4.40" lengthAdjust="spacingAndGlyphs">0</text>
<line x1="367.50" y1="618.30" x2="367.50" y2="719.60" stroke="#000" stroke-width="1.4"/>
<line x1="366.80" y1="718.90" x2="510.00" y2="718.90" stroke="#000" stroke-width="1.4"/>
<line x1="363.60" y1="715.10" x2="367.50" y2="715.10" stroke="#000" stroke-width="1.3"/>
<line x1="363.60" y1="703.38" x2="367.50" y2="703.38" stroke="#000" stroke-width="1.3"/>
<line x1="363.60" y1="691.65" x2="367.50" y2="691.65" stroke="#000" stroke-width="1.3"/>
<line x1="363.60" y1="679.92" x2="367.50" y2="679.92" stroke="#000" stroke-width="1.3"/>
<line x1="363.60" y1="668.20" x2="367.50" y2="668.20" stroke="#000" stroke-width="1.3"/>
<line x1="363.60" y1="656.48" x2="367.50" y2="656.48" stroke="#000" stroke-width="1.3"/>
<line x1="363.60" y1="644.75" x2="367.50" y2="644.75" stroke="#000" stroke-width="1.3"/>
<line x1="363.60" y1="633.02" x2="367.50" y2="633.02" stroke="#000" stroke-width="1.3"/>
<line x1="363.60" y1="621.30" x2="367.50" y2="621.30" stroke="#000" stroke-width="1.3"/>
<line x1="372.60" y1="718.90" x2="372.60" y2="722.40" stroke="#000" stroke-width="1.25"/>
<line x1="385.88" y1="718.90" x2="385.88" y2="722.40" stroke="#000" stroke-width="1.25"/>
<line x1="399.16" y1="718.90" x2="399.16" y2="722.40" stroke="#000" stroke-width="1.25"/>
<line x1="412.44" y1="718.90" x2="412.44" y2="722.40" stroke="#000" stroke-width="1.25"/>
<line x1="425.72" y1="718.90" x2="425.72" y2="722.40" stroke="#000" stroke-width="1.25"/>
<line x1="439.00" y1="718.90" x2="439.00" y2="722.40" stroke="#000" stroke-width="1.25"/>
<line x1="452.29" y1="718.90" x2="452.29" y2="722.40" stroke="#000" stroke-width="1.25"/>
<line x1="465.57" y1="718.90" x2="465.57" y2="722.40" stroke="#000" stroke-width="1.25"/>
<line x1="478.85" y1="718.90" x2="478.85" y2="722.40" stroke="#000" stroke-width="1.25"/>
<line x1="492.13" y1="718.90" x2="492.13" y2="722.40" stroke="#000" stroke-width="1.25"/>
<line x1="505.41" y1="718.90" x2="505.41" y2="722.40" stroke="#000" stroke-width="1.25"/>
<text x="359.80" y="718.10" font-size="9.0" text-anchor="end" fill="#1a1a1a" stroke="#1a1a1a" stroke-width="0.06" textLength="12.50" lengthAdjust="spacingAndGlyphs">0 %</text>
<text x="359.80" y="694.65" font-size="9.0" text-anchor="end" fill="#1a1a1a" stroke="#1a1a1a" stroke-width="0.06" textLength="17.00" lengthAdjust="spacingAndGlyphs">25 %</text>
<text x="359.80" y="671.20" font-size="9.0" text-anchor="end" fill="#1a1a1a" stroke="#1a1a1a" stroke-width="0.06" textLength="17.00" lengthAdjust="spacingAndGlyphs">50 %</text>
<text x="359.80" y="647.75" font-size="9.0" text-anchor="end" fill="#1a1a1a" stroke="#1a1a1a" stroke-width="0.06" textLength="17.00" lengthAdjust="spacingAndGlyphs">75 %</text>
<text x="359.80" y="624.30" font-size="9.0" text-anchor="end" fill="#1a1a1a" stroke="#1a1a1a" stroke-width="0.06" textLength="20.50" lengthAdjust="spacingAndGlyphs">100 %</text>
<text x="372.60" y="732.60" font-size="9.6" text-anchor="middle" fill="#1a1a1a" stroke="#1a1a1a" stroke-width="0.06" textLength="4.60" lengthAdjust="spacingAndGlyphs">0</text>
<text x="385.88" y="732.60" font-size="9.6" text-anchor="middle" fill="#1a1a1a" stroke="#1a1a1a" stroke-width="0.06" textLength="4.60" lengthAdjust="spacingAndGlyphs">3</text>
<text x="399.16" y="732.60" font-size="9.6" text-anchor="middle" fill="#1a1a1a" stroke="#1a1a1a" stroke-width="0.06" textLength="4.60" lengthAdjust="spacingAndGlyphs">6</text>
<text x="412.44" y="732.60" font-size="9.6" text-anchor="middle" fill="#1a1a1a" stroke="#1a1a1a" stroke-width="0.06" textLength="4.60" lengthAdjust="spacingAndGlyphs">9</text>
<text x="425.72" y="732.60" font-size="9.6" text-anchor="middle" fill="#1a1a1a" stroke="#1a1a1a" stroke-width="0.06" textLength="8.50" lengthAdjust="spacingAndGlyphs">12</text>
<text x="439.00" y="732.60" font-size="9.6" text-anchor="middle" fill="#1a1a1a" stroke="#1a1a1a" stroke-width="0.06" textLength="8.50" lengthAdjust="spacingAndGlyphs">15</text>
<text x="452.29" y="732.60" font-size="9.6" text-anchor="middle" fill="#1a1a1a" stroke="#1a1a1a" stroke-width="0.06" textLength="8.50" lengthAdjust="spacingAndGlyphs">18</text>
<text x="465.57" y="732.60" font-size="9.6" text-anchor="middle" fill="#1a1a1a" stroke="#1a1a1a" stroke-width="0.06" textLength="8.50" lengthAdjust="spacingAndGlyphs">21</text>
<text x="478.85" y="732.60" font-size="9.6" text-anchor="middle" fill="#1a1a1a" stroke="#1a1a1a" stroke-width="0.06" textLength="8.50" lengthAdjust="spacingAndGlyphs">24</text>
<text x="492.13" y="732.60" font-size="9.6" text-anchor="middle" fill="#1a1a1a" stroke="#1a1a1a" stroke-width="0.06" textLength="8.50" lengthAdjust="spacingAndGlyphs">27</text>
<text x="505.41" y="732.60" font-size="9.6" text-anchor="middle" fill="#1a1a1a" stroke="#1a1a1a" stroke-width="0.06" textLength="8.50" lengthAdjust="spacingAndGlyphs">30</text>
<text x="0" y="0" font-size="10.0" text-anchor="middle" fill="#1a1a1a" stroke="#1a1a1a" stroke-width="0.06" transform="translate(332.30,668.40) rotate(-90)" textLength="69.5" lengthAdjust="spacingAndGlyphs">Survival probability</text>
<text x="438.60" y="747.20" font-size="10.8" text-anchor="middle" fill="#1a1a1a" stroke="#1a1a1a" stroke-width="0.06" textLength="55.70" lengthAdjust="spacingAndGlyphs">Time in months</text>
<text x="421.30" y="612.10" font-size="10.0" text-anchor="middle" fill="#1a1a1a" stroke="#1a1a1a" stroke-width="0.2" textLength="45.00" lengthAdjust="spacingAndGlyphs">NT-ProBNP</text>
<text x="372.00" y="712.70" font-size="8.4" text-anchor="start" fill="#2a2a2a" stroke="#2a2a2a" stroke-width="0.05" textLength="31.80" lengthAdjust="spacingAndGlyphs">p&lt;0.0001</text>
<line x1="425.72" y1="618.20" x2="425.72" y2="718.90" stroke="#000" stroke-width="1.15" stroke-dasharray="3.9 2.3" stroke-dashoffset="1.5"/>
<path d="M372.90 621.30 L388.80 621.30 L388.80 625.10 L404.90 625.10 L404.90 628.30 L406.30 628.30 L406.30 629.70 L414.00 629.70 L414.00 632.10 L415.40 632.10 L415.40 633.00 L425.30 633.00 L425.30 634.70 L427.40 634.70 L427.40 637.20 L437.90 637.20 L437.90 639.60 L440.50 639.60 L440.50 641.70 L448.20 641.70 L448.20 644.10 L458.10 644.10 L458.10 646.60 L463.00 646.60 L463.00 648.70 L467.60 648.70 L467.60 651.80 L486.10 651.80 L486.10 654.70 L505.80 654.70 L505.80 654.70" fill="none" stroke="#21417c" stroke-width="1.6" stroke-linejoin="miter"/>
<path d="M372.90 621.30 L374.70 621.30 L374.70 623.40 L377.50 623.40 L377.50 629.00 L378.20 629.00 L378.20 634.70 L383.80 634.70 L383.80 639.60 L385.25 639.60 L385.25 643.80 L386.70 643.80 L386.70 647.30 L388.10 647.30 L388.10 651.20 L391.60 651.20 L391.60 651.80 L393.00 651.80 L393.00 655.00 L395.10 655.00 L395.10 659.20 L397.20 659.20 L397.20 663.40 L398.60 663.40 L398.60 668.60 L400.70 668.60 L400.70 671.90 L403.50 671.90 L403.50 675.10 L415.40 675.10 L415.40 677.90 L417.50 677.90 L417.50 681.00 L425.30 681.00 L425.30 684.80 L463.40 684.80 L463.40 691.20 L468.20 691.20 L468.20 699.00 L479.10 699.00 L479.10 707.20 L505.80 707.20 L505.80 707.20" fill="none" stroke="#ad0f38" stroke-width="1.6" stroke-linejoin="miter"/>
<text x="353.25" y="759.30" font-size="8.4" text-anchor="start" fill="#1a1a1a" stroke="#1a1a1a" stroke-width="0.08" textLength="50.50" lengthAdjust="spacingAndGlyphs">Number at risk</text>
<text x="280.50" y="771.50" font-size="8.5" text-anchor="start" fill="#34548c" stroke="#34548c" stroke-width="0.05" textLength="78.30" lengthAdjust="spacingAndGlyphs">NT-ProBNP ≤ 8500ng/l</text>
<text x="363.75" y="771.50" font-size="8.5" text-anchor="middle" fill="#34548c" stroke="#34548c" stroke-width="0.06">:</text>
<text x="372.60" y="771.50" font-size="9.0" text-anchor="middle" fill="#34548c" stroke="#34548c" stroke-width="0.08" textLength="8.30" lengthAdjust="spacingAndGlyphs">70</text>
<text x="385.88" y="771.50" font-size="9.0" text-anchor="middle" fill="#34548c" stroke="#34548c" stroke-width="0.08" textLength="8.30" lengthAdjust="spacingAndGlyphs">69</text>
<text x="399.16" y="771.50" font-size="9.0" text-anchor="middle" fill="#34548c" stroke="#34548c" stroke-width="0.08" textLength="8.30" lengthAdjust="spacingAndGlyphs">65</text>
<text x="412.44" y="771.50" font-size="9.0" text-anchor="middle" fill="#34548c" stroke="#34548c" stroke-width="0.08" textLength="8.30" lengthAdjust="spacingAndGlyphs">56</text>
<text x="425.72" y="771.50" font-size="9.0" text-anchor="middle" fill="#34548c" stroke="#34548c" stroke-width="0.08" textLength="8.30" lengthAdjust="spacingAndGlyphs">48</text>
<text x="439.00" y="771.50" font-size="9.0" text-anchor="middle" fill="#34548c" stroke="#34548c" stroke-width="0.08" textLength="8.30" lengthAdjust="spacingAndGlyphs">39</text>
<text x="452.29" y="771.50" font-size="9.0" text-anchor="middle" fill="#34548c" stroke="#34548c" stroke-width="0.08" textLength="8.30" lengthAdjust="spacingAndGlyphs">33</text>
<text x="465.57" y="771.50" font-size="9.0" text-anchor="middle" fill="#34548c" stroke="#34548c" stroke-width="0.08" textLength="8.30" lengthAdjust="spacingAndGlyphs">26</text>
<text x="478.85" y="771.50" font-size="9.0" text-anchor="middle" fill="#34548c" stroke="#34548c" stroke-width="0.08" textLength="8.30" lengthAdjust="spacingAndGlyphs">23</text>
<text x="492.13" y="771.50" font-size="9.0" text-anchor="middle" fill="#34548c" stroke="#34548c" stroke-width="0.08" textLength="8.30" lengthAdjust="spacingAndGlyphs">17</text>
<text x="505.41" y="771.50" font-size="9.0" text-anchor="middle" fill="#34548c" stroke="#34548c" stroke-width="0.08" textLength="8.30" lengthAdjust="spacingAndGlyphs">12</text>
<text x="280.50" y="783.10" font-size="8.5" text-anchor="start" fill="#b0183c" stroke="#b0183c" stroke-width="0.05" textLength="78.30" lengthAdjust="spacingAndGlyphs">NT-ProBNP &gt; 8500ng/l</text>
<text x="363.75" y="783.10" font-size="8.5" text-anchor="middle" fill="#b0183c" stroke="#b0183c" stroke-width="0.06">:</text>
<text x="372.60" y="783.10" font-size="9.0" text-anchor="middle" fill="#b0183c" stroke="#b0183c" stroke-width="0.08" textLength="8.30" lengthAdjust="spacingAndGlyphs">36</text>
<text x="385.88" y="783.10" font-size="9.0" text-anchor="middle" fill="#b0183c" stroke="#b0183c" stroke-width="0.08" textLength="8.30" lengthAdjust="spacingAndGlyphs">25</text>
<text x="399.16" y="783.10" font-size="9.0" text-anchor="middle" fill="#b0183c" stroke="#b0183c" stroke-width="0.08" textLength="8.30" lengthAdjust="spacingAndGlyphs">15</text>
<text x="412.44" y="783.10" font-size="9.0" text-anchor="middle" fill="#b0183c" stroke="#b0183c" stroke-width="0.08" textLength="8.30" lengthAdjust="spacingAndGlyphs">13</text>
<text x="425.72" y="783.10" font-size="9.0" text-anchor="middle" fill="#b0183c" stroke="#b0183c" stroke-width="0.08" textLength="4.40" lengthAdjust="spacingAndGlyphs">9</text>
<text x="439.00" y="783.10" font-size="9.0" text-anchor="middle" fill="#b0183c" stroke="#b0183c" stroke-width="0.08" textLength="4.40" lengthAdjust="spacingAndGlyphs">7</text>
<text x="452.29" y="783.10" font-size="9.0" text-anchor="middle" fill="#b0183c" stroke="#b0183c" stroke-width="0.08" textLength="4.40" lengthAdjust="spacingAndGlyphs">5</text>
<text x="465.57" y="783.10" font-size="9.0" text-anchor="middle" fill="#b0183c" stroke="#b0183c" stroke-width="0.08" textLength="4.40" lengthAdjust="spacingAndGlyphs">4</text>
<text x="478.85" y="783.10" font-size="9.0" text-anchor="middle" fill="#b0183c" stroke="#b0183c" stroke-width="0.08" textLength="4.40" lengthAdjust="spacingAndGlyphs">2</text>
<text x="492.13" y="783.10" font-size="9.0" text-anchor="middle" fill="#b0183c" stroke="#b0183c" stroke-width="0.08" textLength="4.40" lengthAdjust="spacingAndGlyphs">1</text>
<text x="505.41" y="783.10" font-size="9.0" text-anchor="middle" fill="#b0183c" stroke="#b0183c" stroke-width="0.08" textLength="4.40" lengthAdjust="spacingAndGlyphs">1</text>
</svg></body></html>
